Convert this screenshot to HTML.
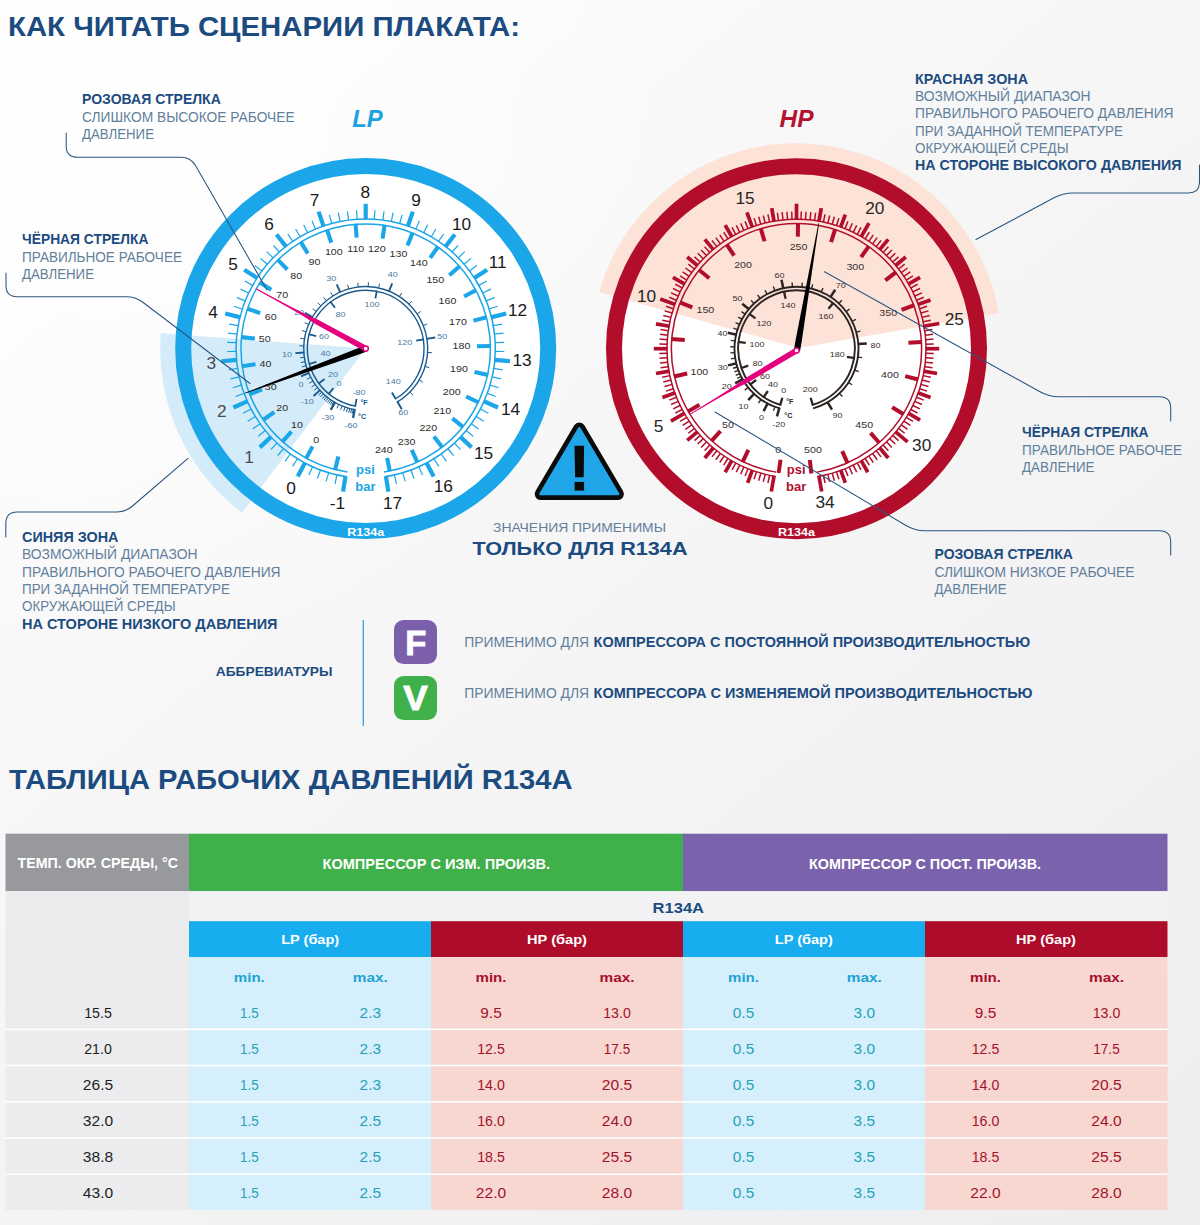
<!DOCTYPE html>
<html lang="ru"><head><meta charset="utf-8"><title>R134a</title>
<style>
html,body{margin:0;padding:0;background:#f3f4f5;}
body{width:1200px;height:1225px;overflow:hidden;}
svg{display:block;font-family:"Liberation Sans", sans-serif;}
</style></head><body>
<svg width="1200" height="1225" viewBox="0 0 1200 1225">
<defs>
<linearGradient id="bgl" x1="0" y1="0" x2="0.85" y2="1.1">
<stop offset="0" stop-color="#fefefe"/><stop offset="0.5" stop-color="#f5f5f6"/><stop offset="1" stop-color="#eeeef0"/>
</linearGradient>
<radialGradient id="bg" cx="0.08" cy="0.06" r="0.5">
<stop offset="0" stop-color="#ffffff" stop-opacity="1"/><stop offset="0.5" stop-color="#ffffff" stop-opacity="0.5"/><stop offset="1" stop-color="#ffffff" stop-opacity="0"/>
</radialGradient>
</defs>
<rect width="1200" height="1225" fill="url(#bgl)"/>
<rect width="1200" height="1225" fill="url(#bg)"/>

<g id="gLP">
<path d="M365.7,348.6 L242.03,512.72 A205.5,205.5 0 0 1 160.78,333.19 Z" fill="#d4ebf9"/>
<circle cx="365.7" cy="348.6" r="175.5" fill="#ffffff"/>
<path d="M365.7,348.6 L260.08,488.76 A175.5,175.5 0 0 1 190.69,335.44 Z" fill="#d4ebf9"/>
<circle cx="365.7" cy="348.6" r="182.5" fill="none" stroke="#1aa6e8" stroke-width="16.0"/>
<path d="M346.77,476.81 A129.6,129.6 0 1 1 384.63,476.81" fill="none" stroke="#1aa6e8" stroke-width="1.5"/>
<path d="M347.48,471.96 A124.7,124.7 0 1 1 383.92,471.96" fill="none" stroke="#1aa6e8" stroke-width="1.5"/>
<line x1="345.50" y1="476.11" x2="343.05" y2="491.62" stroke="#1aa6e8" stroke-width="4.2" stroke-linecap="butt"/>
<line x1="336.99" y1="474.98" x2="334.99" y2="483.76" stroke="#1aa6e8" stroke-width="1.2" stroke-linecap="butt"/>
<line x1="328.67" y1="472.80" x2="326.10" y2="481.42" stroke="#1aa6e8" stroke-width="1.2" stroke-linecap="butt"/>
<line x1="320.53" y1="470.07" x2="317.39" y2="478.51" stroke="#1aa6e8" stroke-width="1.2" stroke-linecap="butt"/>
<line x1="312.57" y1="466.81" x2="308.88" y2="475.02" stroke="#1aa6e8" stroke-width="1.2" stroke-linecap="butt"/>
<line x1="305.09" y1="462.59" x2="297.72" y2="476.45" stroke="#1aa6e8" stroke-width="4.2" stroke-linecap="butt"/>
<line x1="297.41" y1="458.75" x2="292.66" y2="466.40" stroke="#1aa6e8" stroke-width="1.2" stroke-linecap="butt"/>
<line x1="290.26" y1="453.98" x2="285.02" y2="461.30" stroke="#1aa6e8" stroke-width="1.2" stroke-linecap="butt"/>
<line x1="283.44" y1="448.75" x2="277.73" y2="455.70" stroke="#1aa6e8" stroke-width="1.2" stroke-linecap="butt"/>
<line x1="276.98" y1="443.07" x2="270.82" y2="449.64" stroke="#1aa6e8" stroke-width="1.2" stroke-linecap="butt"/>
<line x1="271.28" y1="436.65" x2="259.80" y2="447.35" stroke="#1aa6e8" stroke-width="4.2" stroke-linecap="butt"/>
<line x1="265.27" y1="430.51" x2="258.29" y2="436.20" stroke="#1aa6e8" stroke-width="1.2" stroke-linecap="butt"/>
<line x1="260.06" y1="423.67" x2="252.72" y2="428.89" stroke="#1aa6e8" stroke-width="1.2" stroke-linecap="butt"/>
<line x1="255.32" y1="416.51" x2="247.65" y2="421.22" stroke="#1aa6e8" stroke-width="1.2" stroke-linecap="butt"/>
<line x1="251.06" y1="409.04" x2="243.10" y2="413.24" stroke="#1aa6e8" stroke-width="1.2" stroke-linecap="butt"/>
<line x1="247.76" y1="401.11" x2="233.42" y2="407.50" stroke="#1aa6e8" stroke-width="4.2" stroke-linecap="butt"/>
<line x1="244.07" y1="393.35" x2="235.62" y2="396.46" stroke="#1aa6e8" stroke-width="1.2" stroke-linecap="butt"/>
<line x1="241.37" y1="385.19" x2="232.74" y2="387.73" stroke="#1aa6e8" stroke-width="1.2" stroke-linecap="butt"/>
<line x1="239.22" y1="376.87" x2="230.44" y2="378.83" stroke="#1aa6e8" stroke-width="1.2" stroke-linecap="butt"/>
<line x1="237.63" y1="368.43" x2="228.73" y2="369.80" stroke="#1aa6e8" stroke-width="1.2" stroke-linecap="butt"/>
<line x1="237.09" y1="359.85" x2="221.45" y2="361.22" stroke="#1aa6e8" stroke-width="4.2" stroke-linecap="butt"/>
<line x1="236.13" y1="351.31" x2="227.13" y2="351.50" stroke="#1aa6e8" stroke-width="1.2" stroke-linecap="butt"/>
<line x1="236.23" y1="342.72" x2="227.24" y2="342.31" stroke="#1aa6e8" stroke-width="1.2" stroke-linecap="butt"/>
<line x1="236.91" y1="334.15" x2="227.96" y2="333.15" stroke="#1aa6e8" stroke-width="1.2" stroke-linecap="butt"/>
<line x1="238.15" y1="325.65" x2="229.29" y2="324.06" stroke="#1aa6e8" stroke-width="1.2" stroke-linecap="butt"/>
<line x1="240.43" y1="317.37" x2="225.20" y2="313.57" stroke="#1aa6e8" stroke-width="4.2" stroke-linecap="butt"/>
<line x1="242.30" y1="308.98" x2="233.73" y2="306.23" stroke="#1aa6e8" stroke-width="1.2" stroke-linecap="butt"/>
<line x1="245.20" y1="300.89" x2="236.83" y2="297.58" stroke="#1aa6e8" stroke-width="1.2" stroke-linecap="butt"/>
<line x1="248.63" y1="293.01" x2="240.50" y2="289.15" stroke="#1aa6e8" stroke-width="1.2" stroke-linecap="butt"/>
<line x1="252.57" y1="285.37" x2="244.71" y2="280.98" stroke="#1aa6e8" stroke-width="1.2" stroke-linecap="butt"/>
<line x1="257.43" y1="278.29" x2="244.26" y2="269.74" stroke="#1aa6e8" stroke-width="4.2" stroke-linecap="butt"/>
<line x1="261.93" y1="270.97" x2="254.72" y2="265.58" stroke="#1aa6e8" stroke-width="1.2" stroke-linecap="butt"/>
<line x1="267.30" y1="264.26" x2="260.46" y2="258.40" stroke="#1aa6e8" stroke-width="1.2" stroke-linecap="butt"/>
<line x1="273.10" y1="257.92" x2="266.67" y2="251.63" stroke="#1aa6e8" stroke-width="1.2" stroke-linecap="butt"/>
<line x1="279.32" y1="251.99" x2="273.32" y2="245.28" stroke="#1aa6e8" stroke-width="1.2" stroke-linecap="butt"/>
<line x1="286.22" y1="246.87" x2="276.55" y2="234.50" stroke="#1aa6e8" stroke-width="4.2" stroke-linecap="butt"/>
<line x1="292.85" y1="241.41" x2="287.80" y2="233.97" stroke="#1aa6e8" stroke-width="1.2" stroke-linecap="butt"/>
<line x1="300.12" y1="236.82" x2="295.56" y2="229.06" stroke="#1aa6e8" stroke-width="1.2" stroke-linecap="butt"/>
<line x1="307.67" y1="232.72" x2="303.64" y2="224.67" stroke="#1aa6e8" stroke-width="1.2" stroke-linecap="butt"/>
<line x1="315.48" y1="229.13" x2="311.99" y2="220.83" stroke="#1aa6e8" stroke-width="1.2" stroke-linecap="butt"/>
<line x1="323.67" y1="226.53" x2="318.56" y2="211.69" stroke="#1aa6e8" stroke-width="4.2" stroke-linecap="butt"/>
<line x1="331.72" y1="223.53" x2="329.36" y2="214.85" stroke="#1aa6e8" stroke-width="1.2" stroke-linecap="butt"/>
<line x1="340.08" y1="221.56" x2="338.30" y2="212.73" stroke="#1aa6e8" stroke-width="1.2" stroke-linecap="butt"/>
<line x1="348.56" y1="220.14" x2="347.37" y2="211.22" stroke="#1aa6e8" stroke-width="1.2" stroke-linecap="butt"/>
<line x1="357.11" y1="219.28" x2="356.51" y2="210.30" stroke="#1aa6e8" stroke-width="1.2" stroke-linecap="butt"/>
<line x1="365.70" y1="219.50" x2="365.70" y2="203.80" stroke="#1aa6e8" stroke-width="4.2" stroke-linecap="butt"/>
<line x1="374.29" y1="219.28" x2="374.89" y2="210.30" stroke="#1aa6e8" stroke-width="1.2" stroke-linecap="butt"/>
<line x1="382.84" y1="220.14" x2="384.03" y2="211.22" stroke="#1aa6e8" stroke-width="1.2" stroke-linecap="butt"/>
<line x1="391.32" y1="221.56" x2="393.10" y2="212.73" stroke="#1aa6e8" stroke-width="1.2" stroke-linecap="butt"/>
<line x1="399.68" y1="223.53" x2="402.04" y2="214.85" stroke="#1aa6e8" stroke-width="1.2" stroke-linecap="butt"/>
<line x1="407.73" y1="226.53" x2="412.84" y2="211.69" stroke="#1aa6e8" stroke-width="4.2" stroke-linecap="butt"/>
<line x1="415.92" y1="229.13" x2="419.41" y2="220.83" stroke="#1aa6e8" stroke-width="1.2" stroke-linecap="butt"/>
<line x1="423.73" y1="232.72" x2="427.76" y2="224.67" stroke="#1aa6e8" stroke-width="1.2" stroke-linecap="butt"/>
<line x1="431.28" y1="236.82" x2="435.84" y2="229.06" stroke="#1aa6e8" stroke-width="1.2" stroke-linecap="butt"/>
<line x1="438.55" y1="241.41" x2="443.60" y2="233.97" stroke="#1aa6e8" stroke-width="1.2" stroke-linecap="butt"/>
<line x1="445.18" y1="246.87" x2="454.85" y2="234.50" stroke="#1aa6e8" stroke-width="4.2" stroke-linecap="butt"/>
<line x1="452.08" y1="251.99" x2="458.08" y2="245.28" stroke="#1aa6e8" stroke-width="1.2" stroke-linecap="butt"/>
<line x1="458.30" y1="257.92" x2="464.73" y2="251.63" stroke="#1aa6e8" stroke-width="1.2" stroke-linecap="butt"/>
<line x1="464.10" y1="264.26" x2="470.94" y2="258.40" stroke="#1aa6e8" stroke-width="1.2" stroke-linecap="butt"/>
<line x1="469.47" y1="270.97" x2="476.68" y2="265.58" stroke="#1aa6e8" stroke-width="1.2" stroke-linecap="butt"/>
<line x1="473.97" y1="278.29" x2="487.14" y2="269.74" stroke="#1aa6e8" stroke-width="4.2" stroke-linecap="butt"/>
<line x1="478.83" y1="285.37" x2="486.69" y2="280.98" stroke="#1aa6e8" stroke-width="1.2" stroke-linecap="butt"/>
<line x1="482.77" y1="293.01" x2="490.90" y2="289.15" stroke="#1aa6e8" stroke-width="1.2" stroke-linecap="butt"/>
<line x1="486.20" y1="300.89" x2="494.57" y2="297.58" stroke="#1aa6e8" stroke-width="1.2" stroke-linecap="butt"/>
<line x1="489.10" y1="308.98" x2="497.67" y2="306.23" stroke="#1aa6e8" stroke-width="1.2" stroke-linecap="butt"/>
<line x1="490.97" y1="317.37" x2="506.20" y2="313.57" stroke="#1aa6e8" stroke-width="4.2" stroke-linecap="butt"/>
<line x1="493.25" y1="325.65" x2="502.11" y2="324.06" stroke="#1aa6e8" stroke-width="1.2" stroke-linecap="butt"/>
<line x1="494.49" y1="334.15" x2="503.44" y2="333.15" stroke="#1aa6e8" stroke-width="1.2" stroke-linecap="butt"/>
<line x1="495.17" y1="342.72" x2="504.16" y2="342.31" stroke="#1aa6e8" stroke-width="1.2" stroke-linecap="butt"/>
<line x1="495.27" y1="351.31" x2="504.27" y2="351.50" stroke="#1aa6e8" stroke-width="1.2" stroke-linecap="butt"/>
<line x1="494.31" y1="359.85" x2="509.95" y2="361.22" stroke="#1aa6e8" stroke-width="4.2" stroke-linecap="butt"/>
<line x1="493.77" y1="368.43" x2="502.67" y2="369.80" stroke="#1aa6e8" stroke-width="1.2" stroke-linecap="butt"/>
<line x1="492.18" y1="376.87" x2="500.96" y2="378.83" stroke="#1aa6e8" stroke-width="1.2" stroke-linecap="butt"/>
<line x1="490.03" y1="385.19" x2="498.66" y2="387.73" stroke="#1aa6e8" stroke-width="1.2" stroke-linecap="butt"/>
<line x1="487.33" y1="393.35" x2="495.78" y2="396.46" stroke="#1aa6e8" stroke-width="1.2" stroke-linecap="butt"/>
<line x1="483.64" y1="401.11" x2="497.98" y2="407.50" stroke="#1aa6e8" stroke-width="4.2" stroke-linecap="butt"/>
<line x1="480.34" y1="409.04" x2="488.30" y2="413.24" stroke="#1aa6e8" stroke-width="1.2" stroke-linecap="butt"/>
<line x1="476.08" y1="416.51" x2="483.75" y2="421.22" stroke="#1aa6e8" stroke-width="1.2" stroke-linecap="butt"/>
<line x1="471.34" y1="423.67" x2="478.68" y2="428.89" stroke="#1aa6e8" stroke-width="1.2" stroke-linecap="butt"/>
<line x1="466.13" y1="430.51" x2="473.11" y2="436.20" stroke="#1aa6e8" stroke-width="1.2" stroke-linecap="butt"/>
<line x1="460.12" y1="436.65" x2="471.60" y2="447.35" stroke="#1aa6e8" stroke-width="4.2" stroke-linecap="butt"/>
<line x1="454.42" y1="443.07" x2="460.58" y2="449.64" stroke="#1aa6e8" stroke-width="1.2" stroke-linecap="butt"/>
<line x1="447.96" y1="448.75" x2="453.67" y2="455.70" stroke="#1aa6e8" stroke-width="1.2" stroke-linecap="butt"/>
<line x1="441.14" y1="453.98" x2="446.38" y2="461.30" stroke="#1aa6e8" stroke-width="1.2" stroke-linecap="butt"/>
<line x1="433.99" y1="458.75" x2="438.74" y2="466.40" stroke="#1aa6e8" stroke-width="1.2" stroke-linecap="butt"/>
<line x1="426.31" y1="462.59" x2="433.68" y2="476.45" stroke="#1aa6e8" stroke-width="4.2" stroke-linecap="butt"/>
<line x1="418.83" y1="466.81" x2="422.52" y2="475.02" stroke="#1aa6e8" stroke-width="1.2" stroke-linecap="butt"/>
<line x1="410.87" y1="470.07" x2="414.01" y2="478.51" stroke="#1aa6e8" stroke-width="1.2" stroke-linecap="butt"/>
<line x1="402.73" y1="472.80" x2="405.30" y2="481.42" stroke="#1aa6e8" stroke-width="1.2" stroke-linecap="butt"/>
<line x1="394.41" y1="474.98" x2="396.41" y2="483.76" stroke="#1aa6e8" stroke-width="1.2" stroke-linecap="butt"/>
<line x1="385.90" y1="476.11" x2="388.35" y2="491.62" stroke="#1aa6e8" stroke-width="4.2" stroke-linecap="butt"/>
<text transform="translate(365.3,197.7) scale(1.08,1)" font-size="16" fill="#1a1a1a" text-anchor="middle">8</text>
<text transform="translate(314.5,205.7) scale(1.08,1)" font-size="16" fill="#1a1a1a" text-anchor="middle">7</text>
<text transform="translate(416.0,205.7) scale(1.08,1)" font-size="16" fill="#1a1a1a" text-anchor="middle">9</text>
<text transform="translate(269.0,230.2) scale(1.08,1)" font-size="16" fill="#1a1a1a" text-anchor="middle">6</text>
<text transform="translate(461.5,230.2) scale(1.08,1)" font-size="16" fill="#1a1a1a" text-anchor="middle">10</text>
<text transform="translate(233.0,269.5) scale(1.08,1)" font-size="16" fill="#1a1a1a" text-anchor="middle">5</text>
<text transform="translate(497.6,268.4) scale(1.08,1)" font-size="16" fill="#1a1a1a" text-anchor="middle">11</text>
<text transform="translate(213.0,317.7) scale(1.08,1)" font-size="16" fill="#1a1a1a" text-anchor="middle">4</text>
<text transform="translate(517.5,316.0) scale(1.08,1)" font-size="16" fill="#1a1a1a" text-anchor="middle">12</text>
<text transform="translate(211.3,368.5) scale(1.08,1)" font-size="16" fill="#474c52" text-anchor="middle">3</text>
<text transform="translate(522.0,365.5) scale(1.08,1)" font-size="16" fill="#1a1a1a" text-anchor="middle">13</text>
<text transform="translate(221.8,416.5) scale(1.08,1)" font-size="16" fill="#474c52" text-anchor="middle">2</text>
<text transform="translate(510.5,414.7) scale(1.08,1)" font-size="16" fill="#1a1a1a" text-anchor="middle">14</text>
<text transform="translate(249.0,462.7) scale(1.08,1)" font-size="16" fill="#474c52" text-anchor="middle">1</text>
<text transform="translate(483.6,458.5) scale(1.08,1)" font-size="16" fill="#1a1a1a" text-anchor="middle">15</text>
<text transform="translate(291.0,493.5) scale(1.08,1)" font-size="16" fill="#1a1a1a" text-anchor="middle">0</text>
<text transform="translate(443.3,491.7) scale(1.08,1)" font-size="16" fill="#1a1a1a" text-anchor="middle">16</text>
<text transform="translate(337.3,509.2) scale(1.08,1)" font-size="16" fill="#1a1a1a" text-anchor="middle">-1</text>
<text transform="translate(392.6,508.5) scale(1.08,1)" font-size="16" fill="#1a1a1a" text-anchor="middle">17</text>
<line x1="334.99" y1="469.97" x2="338.40" y2="456.50" stroke="#1aa6e8" stroke-width="4.1" stroke-linecap="butt"/>
<line x1="305.96" y1="458.63" x2="312.59" y2="446.41" stroke="#1aa6e8" stroke-width="4.1" stroke-linecap="butt"/>
<line x1="282.17" y1="441.86" x2="291.44" y2="431.51" stroke="#1aa6e8" stroke-width="4.1" stroke-linecap="butt"/>
<line x1="262.89" y1="420.05" x2="274.31" y2="412.12" stroke="#1aa6e8" stroke-width="4.1" stroke-linecap="butt"/>
<line x1="249.17" y1="394.38" x2="262.11" y2="389.30" stroke="#1aa6e8" stroke-width="4.1" stroke-linecap="butt"/>
<line x1="241.75" y1="366.24" x2="255.51" y2="364.28" stroke="#1aa6e8" stroke-width="4.1" stroke-linecap="butt"/>
<line x1="241.03" y1="337.14" x2="254.87" y2="338.42" stroke="#1aa6e8" stroke-width="4.1" stroke-linecap="butt"/>
<line x1="247.04" y1="308.67" x2="260.21" y2="313.10" stroke="#1aa6e8" stroke-width="4.1" stroke-linecap="butt"/>
<line x1="259.47" y1="282.35" x2="271.26" y2="289.70" stroke="#1aa6e8" stroke-width="4.1" stroke-linecap="butt"/>
<line x1="277.63" y1="259.61" x2="287.41" y2="269.49" stroke="#1aa6e8" stroke-width="4.1" stroke-linecap="butt"/>
<line x1="300.56" y1="241.68" x2="307.79" y2="253.55" stroke="#1aa6e8" stroke-width="4.1" stroke-linecap="butt"/>
<line x1="327.01" y1="229.53" x2="331.31" y2="242.75" stroke="#1aa6e8" stroke-width="4.1" stroke-linecap="butt"/>
<line x1="355.55" y1="223.81" x2="356.68" y2="237.67" stroke="#1aa6e8" stroke-width="4.1" stroke-linecap="butt"/>
<line x1="384.64" y1="224.84" x2="382.54" y2="238.58" stroke="#1aa6e8" stroke-width="4.1" stroke-linecap="butt"/>
<line x1="412.70" y1="232.56" x2="407.48" y2="245.44" stroke="#1aa6e8" stroke-width="4.1" stroke-linecap="butt"/>
<line x1="438.23" y1="246.55" x2="430.17" y2="257.88" stroke="#1aa6e8" stroke-width="4.1" stroke-linecap="butt"/>
<line x1="459.83" y1="266.05" x2="449.38" y2="275.21" stroke="#1aa6e8" stroke-width="4.1" stroke-linecap="butt"/>
<line x1="476.35" y1="290.02" x2="464.06" y2="296.52" stroke="#1aa6e8" stroke-width="4.1" stroke-linecap="butt"/>
<line x1="486.88" y1="317.15" x2="473.43" y2="320.64" stroke="#1aa6e8" stroke-width="4.1" stroke-linecap="butt"/>
<line x1="490.87" y1="345.98" x2="476.98" y2="346.27" stroke="#1aa6e8" stroke-width="4.1" stroke-linecap="butt"/>
<line x1="488.10" y1="374.95" x2="474.51" y2="372.03" stroke="#1aa6e8" stroke-width="4.1" stroke-linecap="butt"/>
<line x1="478.70" y1="402.50" x2="466.16" y2="396.52" stroke="#1aa6e8" stroke-width="4.1" stroke-linecap="butt"/>
<line x1="463.20" y1="427.14" x2="452.38" y2="418.42" stroke="#1aa6e8" stroke-width="4.1" stroke-linecap="butt"/>
<line x1="442.44" y1="447.53" x2="433.92" y2="436.54" stroke="#1aa6e8" stroke-width="4.1" stroke-linecap="butt"/>
<line x1="417.52" y1="462.57" x2="411.77" y2="449.92" stroke="#1aa6e8" stroke-width="4.1" stroke-linecap="butt"/>
<line x1="389.80" y1="471.46" x2="387.13" y2="457.82" stroke="#1aa6e8" stroke-width="4.1" stroke-linecap="butt"/>
<text transform="translate(316.3,443.1) scale(1.15,1)" font-size="9.3" fill="#2e2e2e" text-anchor="middle">0</text>
<text transform="translate(297.0,428.1) scale(1.15,1)" font-size="9.3" fill="#2e2e2e" text-anchor="middle">10</text>
<text transform="translate(282.3,410.6) scale(1.15,1)" font-size="9.3" fill="#2e2e2e" text-anchor="middle">20</text>
<text transform="translate(270.8,389.6) scale(1.15,1)" font-size="9.3" fill="#2e2e2e" text-anchor="middle">30</text>
<text transform="translate(265.5,366.8) scale(1.15,1)" font-size="9.3" fill="#2e2e2e" text-anchor="middle">40</text>
<text transform="translate(264.8,342.3) scale(1.15,1)" font-size="9.3" fill="#2e2e2e" text-anchor="middle">50</text>
<text transform="translate(270.8,319.6) scale(1.15,1)" font-size="9.3" fill="#2e2e2e" text-anchor="middle">60</text>
<text transform="translate(282.3,297.9) scale(1.15,1)" font-size="9.3" fill="#2e2e2e" text-anchor="middle">70</text>
<text transform="translate(296.3,278.6) scale(1.15,1)" font-size="9.3" fill="#2e2e2e" text-anchor="middle">80</text>
<text transform="translate(314.5,265.3) scale(1.15,1)" font-size="9.3" fill="#2e2e2e" text-anchor="middle">90</text>
<text transform="translate(333.8,254.8) scale(1.15,1)" font-size="9.3" fill="#2e2e2e" text-anchor="middle">100</text>
<text transform="translate(355.8,251.5) scale(1.15,1)" font-size="9.3" fill="#2e2e2e" text-anchor="middle">110</text>
<text transform="translate(376.8,251.7) scale(1.15,1)" font-size="9.3" fill="#2e2e2e" text-anchor="middle">120</text>
<text transform="translate(398.5,256.6) scale(1.15,1)" font-size="9.3" fill="#2e2e2e" text-anchor="middle">130</text>
<text transform="translate(418.8,266.0) scale(1.15,1)" font-size="9.3" fill="#2e2e2e" text-anchor="middle">140</text>
<text transform="translate(435.3,282.8) scale(1.15,1)" font-size="9.3" fill="#2e2e2e" text-anchor="middle">150</text>
<text transform="translate(447.5,303.8) scale(1.15,1)" font-size="9.3" fill="#2e2e2e" text-anchor="middle">160</text>
<text transform="translate(458.0,324.8) scale(1.15,1)" font-size="9.3" fill="#2e2e2e" text-anchor="middle">170</text>
<text transform="translate(461.5,348.6) scale(1.15,1)" font-size="9.3" fill="#2e2e2e" text-anchor="middle">180</text>
<text transform="translate(459.0,372.1) scale(1.15,1)" font-size="9.3" fill="#2e2e2e" text-anchor="middle">190</text>
<text transform="translate(451.7,394.8) scale(1.15,1)" font-size="9.3" fill="#2e2e2e" text-anchor="middle">200</text>
<text transform="translate(442.3,414.1) scale(1.15,1)" font-size="9.3" fill="#2e2e2e" text-anchor="middle">210</text>
<text transform="translate(428.3,430.9) scale(1.15,1)" font-size="9.3" fill="#2e2e2e" text-anchor="middle">220</text>
<text transform="translate(406.6,444.5) scale(1.15,1)" font-size="9.3" fill="#2e2e2e" text-anchor="middle">230</text>
<text transform="translate(383.8,452.6) scale(1.15,1)" font-size="9.3" fill="#2e2e2e" text-anchor="middle">240</text>
<text x="365.4" y="473.5" font-size="13" font-weight="700" fill="#1aa6e8" text-anchor="middle">psi</text>
<text x="365.4" y="490.5" font-size="13" font-weight="700" fill="#1aa6e8" text-anchor="middle">bar</text>
<text x="365.7" y="536.0" font-size="10.5" font-weight="700" fill="#ffffff" text-anchor="middle" textLength="37.0" lengthAdjust="spacingAndGlyphs">R134a</text>
<path d="M355.25,409.71 A62.0,62.0 0 1 1 397.45,401.86" fill="none" stroke="#1b5a8d" stroke-width="1.4"/>
<path d="M355.86,406.17 A58.4,58.4 0 1 1 395.60,398.76" fill="none" stroke="#1b5a8d" stroke-width="1.4"/>
<line x1="353.23" y1="409.33" x2="352.37" y2="413.55" stroke="#1b5a8d" stroke-width="1.0" stroke-linecap="butt"/>
<line x1="351.68" y1="408.99" x2="350.71" y2="413.18" stroke="#1b5a8d" stroke-width="1.0" stroke-linecap="butt"/>
<line x1="349.83" y1="408.53" x2="348.72" y2="412.69" stroke="#1b5a8d" stroke-width="1.0" stroke-linecap="butt"/>
<line x1="347.65" y1="407.91" x2="346.39" y2="412.03" stroke="#1b5a8d" stroke-width="1.0" stroke-linecap="butt"/>
<line x1="345.08" y1="407.07" x2="343.65" y2="411.13" stroke="#1b5a8d" stroke-width="1.0" stroke-linecap="butt"/>
<line x1="342.14" y1="405.95" x2="340.50" y2="409.93" stroke="#1b5a8d" stroke-width="1.0" stroke-linecap="butt"/>
<line x1="338.78" y1="404.45" x2="336.91" y2="408.32" stroke="#1b5a8d" stroke-width="1.0" stroke-linecap="butt"/>
<line x1="333.78" y1="401.75" x2="331.57" y2="405.44" stroke="#1b5a8d" stroke-width="1.0" stroke-linecap="butt"/>
<line x1="332.51" y1="400.97" x2="330.21" y2="404.60" stroke="#1b5a8d" stroke-width="1.0" stroke-linecap="butt"/>
<line x1="331.16" y1="400.09" x2="328.76" y2="403.66" stroke="#1b5a8d" stroke-width="1.0" stroke-linecap="butt"/>
<line x1="329.73" y1="399.10" x2="327.24" y2="402.60" stroke="#1b5a8d" stroke-width="1.0" stroke-linecap="butt"/>
<line x1="328.22" y1="397.99" x2="325.63" y2="401.42" stroke="#1b5a8d" stroke-width="1.0" stroke-linecap="butt"/>
<line x1="326.67" y1="396.77" x2="323.96" y2="400.11" stroke="#1b5a8d" stroke-width="1.0" stroke-linecap="butt"/>
<line x1="325.05" y1="395.41" x2="322.23" y2="398.66" stroke="#1b5a8d" stroke-width="1.0" stroke-linecap="butt"/>
<line x1="323.36" y1="393.89" x2="320.42" y2="397.03" stroke="#1b5a8d" stroke-width="1.0" stroke-linecap="butt"/>
<line x1="321.62" y1="392.20" x2="318.57" y2="395.23" stroke="#1b5a8d" stroke-width="1.0" stroke-linecap="butt"/>
<line x1="317.47" y1="387.56" x2="314.13" y2="390.26" stroke="#1b5a8d" stroke-width="1.0" stroke-linecap="butt"/>
<line x1="315.13" y1="384.47" x2="311.62" y2="386.96" stroke="#1b5a8d" stroke-width="1.0" stroke-linecap="butt"/>
<line x1="312.86" y1="381.03" x2="309.19" y2="383.28" stroke="#1b5a8d" stroke-width="1.0" stroke-linecap="butt"/>
<line x1="310.70" y1="377.22" x2="306.89" y2="379.21" stroke="#1b5a8d" stroke-width="1.0" stroke-linecap="butt"/>
<line x1="307.34" y1="369.52" x2="303.29" y2="370.97" stroke="#1b5a8d" stroke-width="1.0" stroke-linecap="butt"/>
<line x1="306.11" y1="365.73" x2="301.98" y2="366.92" stroke="#1b5a8d" stroke-width="1.0" stroke-linecap="butt"/>
<line x1="305.09" y1="361.65" x2="300.88" y2="362.55" stroke="#1b5a8d" stroke-width="1.0" stroke-linecap="butt"/>
<line x1="304.31" y1="357.27" x2="300.05" y2="357.87" stroke="#1b5a8d" stroke-width="1.0" stroke-linecap="butt"/>
<line x1="303.76" y1="345.93" x2="299.46" y2="345.75" stroke="#1b5a8d" stroke-width="1.0" stroke-linecap="butt"/>
<line x1="304.46" y1="338.95" x2="300.21" y2="338.28" stroke="#1b5a8d" stroke-width="1.0" stroke-linecap="butt"/>
<line x1="306.04" y1="331.74" x2="301.90" y2="330.57" stroke="#1b5a8d" stroke-width="1.0" stroke-linecap="butt"/>
<line x1="308.61" y1="324.41" x2="304.65" y2="322.74" stroke="#1b5a8d" stroke-width="1.0" stroke-linecap="butt"/>
<line x1="316.12" y1="311.37" x2="312.68" y2="308.79" stroke="#1b5a8d" stroke-width="1.0" stroke-linecap="butt"/>
<line x1="320.81" y1="305.83" x2="317.70" y2="302.87" stroke="#1b5a8d" stroke-width="1.0" stroke-linecap="butt"/>
<line x1="326.38" y1="300.66" x2="323.65" y2="297.34" stroke="#1b5a8d" stroke-width="1.0" stroke-linecap="butt"/>
<line x1="332.85" y1="296.02" x2="330.57" y2="292.37" stroke="#1b5a8d" stroke-width="1.0" stroke-linecap="butt"/>
<line x1="348.82" y1="288.94" x2="347.65" y2="284.80" stroke="#1b5a8d" stroke-width="1.0" stroke-linecap="butt"/>
<line x1="358.23" y1="287.05" x2="357.72" y2="282.78" stroke="#1b5a8d" stroke-width="1.0" stroke-linecap="butt"/>
<line x1="368.24" y1="286.65" x2="368.42" y2="282.36" stroke="#1b5a8d" stroke-width="1.0" stroke-linecap="butt"/>
<line x1="378.61" y1="287.96" x2="379.51" y2="283.75" stroke="#1b5a8d" stroke-width="1.0" stroke-linecap="butt"/>
<line x1="399.42" y1="296.57" x2="401.76" y2="292.96" stroke="#1b5a8d" stroke-width="1.0" stroke-linecap="butt"/>
<line x1="408.95" y1="304.18" x2="411.95" y2="301.10" stroke="#1b5a8d" stroke-width="1.0" stroke-linecap="butt"/>
<line x1="417.09" y1="313.92" x2="420.66" y2="311.51" stroke="#1b5a8d" stroke-width="1.0" stroke-linecap="butt"/>
<line x1="423.27" y1="325.58" x2="427.26" y2="323.98" stroke="#1b5a8d" stroke-width="1.0" stroke-linecap="butt"/>
<line x1="427.58" y1="352.46" x2="431.87" y2="352.73" stroke="#1b5a8d" stroke-width="1.0" stroke-linecap="butt"/>
<line x1="425.08" y1="366.45" x2="429.19" y2="367.68" stroke="#1b5a8d" stroke-width="1.0" stroke-linecap="butt"/>
<line x1="419.19" y1="379.95" x2="422.90" y2="382.13" stroke="#1b5a8d" stroke-width="1.0" stroke-linecap="butt"/>
<line x1="409.90" y1="392.08" x2="412.96" y2="395.10" stroke="#1b5a8d" stroke-width="1.0" stroke-linecap="butt"/>
<line x1="354.72" y1="409.01" x2="353.09" y2="417.96" stroke="#1b5a8d" stroke-width="2.3" stroke-linecap="butt"/>
<line x1="335.28" y1="401.93" x2="330.77" y2="409.84" stroke="#1b5a8d" stroke-width="2.3" stroke-linecap="butt"/>
<line x1="320.29" y1="389.92" x2="313.56" y2="396.05" stroke="#1b5a8d" stroke-width="1.9" stroke-linecap="butt"/>
<line x1="309.27" y1="372.79" x2="300.90" y2="376.37" stroke="#1b5a8d" stroke-width="1.9" stroke-linecap="butt"/>
<line x1="304.43" y1="352.56" x2="295.35" y2="353.15" stroke="#1b5a8d" stroke-width="1.9" stroke-linecap="butt"/>
<line x1="312.80" y1="317.44" x2="304.96" y2="312.82" stroke="#1b5a8d" stroke-width="1.9" stroke-linecap="butt"/>
<line x1="340.43" y1="292.64" x2="336.69" y2="284.35" stroke="#1b5a8d" stroke-width="1.9" stroke-linecap="butt"/>
<line x1="388.80" y1="291.71" x2="392.22" y2="283.28" stroke="#1b5a8d" stroke-width="1.9" stroke-linecap="butt"/>
<line x1="426.33" y1="338.89" x2="435.31" y2="337.45" stroke="#1b5a8d" stroke-width="1.9" stroke-linecap="butt"/>
<line x1="397.14" y1="401.34" x2="401.80" y2="409.16" stroke="#1b5a8d" stroke-width="1.9" stroke-linecap="butt"/>
<line x1="355.15" y1="406.65" x2="356.56" y2="398.88" stroke="#1b5a8d" stroke-width="1.8" stroke-linecap="butt"/>
<line x1="328.39" y1="394.30" x2="333.38" y2="388.18" stroke="#1b5a8d" stroke-width="1.8" stroke-linecap="butt"/>
<line x1="318.31" y1="383.75" x2="324.66" y2="379.04" stroke="#1b5a8d" stroke-width="1.8" stroke-linecap="butt"/>
<line x1="308.76" y1="364.06" x2="316.39" y2="361.99" stroke="#1b5a8d" stroke-width="1.8" stroke-linecap="butt"/>
<line x1="308.51" y1="334.09" x2="316.17" y2="336.03" stroke="#1b5a8d" stroke-width="1.8" stroke-linecap="butt"/>
<line x1="330.24" y1="301.45" x2="334.99" y2="307.76" stroke="#1b5a8d" stroke-width="1.8" stroke-linecap="butt"/>
<line x1="376.88" y1="290.67" x2="375.39" y2="298.43" stroke="#1b5a8d" stroke-width="1.8" stroke-linecap="butt"/>
<line x1="423.96" y1="339.27" x2="416.16" y2="340.52" stroke="#1b5a8d" stroke-width="1.8" stroke-linecap="butt"/>
<line x1="395.91" y1="399.28" x2="391.87" y2="392.49" stroke="#1b5a8d" stroke-width="1.8" stroke-linecap="butt"/>
<text transform="translate(351.0,428.2) scale(1.17,1)" font-size="7.7" font-weight="400" fill="#47799f" text-anchor="middle">-60</text>
<text transform="translate(327.7,420.4) scale(1.17,1)" font-size="7.7" font-weight="400" fill="#47799f" text-anchor="middle">-30</text>
<text transform="translate(307.2,403.8) scale(1.17,1)" font-size="7.7" font-weight="400" fill="#47799f" text-anchor="middle">-10</text>
<text transform="translate(301.0,387.2) scale(1.17,1)" font-size="7.7" font-weight="400" fill="#47799f" text-anchor="middle">0</text>
<text transform="translate(286.9,356.9) scale(1.17,1)" font-size="7.7" font-weight="400" fill="#47799f" text-anchor="middle">10</text>
<text transform="translate(299.2,314.5) scale(1.17,1)" font-size="7.7" font-weight="400" fill="#47799f" text-anchor="middle">20</text>
<text transform="translate(331.3,280.8) scale(1.17,1)" font-size="7.7" font-weight="400" fill="#47799f" text-anchor="middle">30</text>
<text transform="translate(392.7,277.1) scale(1.17,1)" font-size="7.7" font-weight="400" fill="#47799f" text-anchor="middle">40</text>
<text transform="translate(442.2,339.2) scale(1.17,1)" font-size="7.7" font-weight="400" fill="#47799f" text-anchor="middle">50</text>
<text transform="translate(403.3,415.1) scale(1.17,1)" font-size="7.7" font-weight="400" fill="#47799f" text-anchor="middle">60</text>
<text transform="translate(359.0,395.3) scale(1.17,1)" font-size="7.7" font-weight="400" fill="#47799f" text-anchor="middle">-80</text>
<text transform="translate(339.0,386.1) scale(1.17,1)" font-size="7.7" font-weight="400" fill="#47799f" text-anchor="middle">0</text>
<text transform="translate(333.1,377.0) scale(1.17,1)" font-size="7.7" font-weight="400" fill="#47799f" text-anchor="middle">20</text>
<text transform="translate(325.5,356.3) scale(1.17,1)" font-size="7.7" font-weight="400" fill="#47799f" text-anchor="middle">40</text>
<text transform="translate(324.1,338.6) scale(1.17,1)" font-size="7.7" font-weight="400" fill="#47799f" text-anchor="middle">60</text>
<text transform="translate(340.4,316.6) scale(1.17,1)" font-size="7.7" font-weight="400" fill="#47799f" text-anchor="middle">80</text>
<text transform="translate(371.9,307.3) scale(1.17,1)" font-size="7.7" font-weight="400" fill="#47799f" text-anchor="middle">100</text>
<text transform="translate(404.7,344.5) scale(1.17,1)" font-size="7.7" font-weight="400" fill="#47799f" text-anchor="middle">120</text>
<text transform="translate(393.3,384.3) scale(1.17,1)" font-size="7.7" font-weight="400" fill="#47799f" text-anchor="middle">140</text>
<text x="360.4" y="405.2" font-size="7.2" font-weight="700" fill="#1b5a8d">°F</text>
<text x="358.1" y="418.9" font-size="7.2" font-weight="700" fill="#1b5a8d">°C</text>
</g>
<g id="gHP">
<path d="M798.5,348.0 L598.96,292.06 A205.5,205.5 0 0 1 998.88,313.02 Z" fill="#fde2d8"/>
<circle cx="796.5" cy="348.7" r="175.5" fill="#ffffff"/>
<path d="M798.5,348.0 L627.80,300.33 A175.5,175.5 0 0 1 969.33,318.22 Z" fill="#fde2d8"/>
<circle cx="796.5" cy="348.7" r="182.5" fill="none" stroke="#b20e2b" stroke-width="16.0"/>
<path d="M775.35,476.46 A129.5,129.5 0 1 1 817.65,476.46" fill="none" stroke="#b20e2b" stroke-width="1.5"/>
<path d="M776.07,472.12 A125.1,125.1 0 1 1 816.93,472.12" fill="none" stroke="#b20e2b" stroke-width="1.5"/>
<line x1="774.10" y1="475.74" x2="771.32" y2="491.50" stroke="#b20e2b" stroke-width="3.7" stroke-linecap="butt"/>
<line x1="769.58" y1="475.37" x2="767.95" y2="483.00" stroke="#b20e2b" stroke-width="1.5" stroke-linecap="butt"/>
<line x1="765.17" y1="474.35" x2="763.28" y2="481.92" stroke="#b20e2b" stroke-width="1.5" stroke-linecap="butt"/>
<line x1="760.80" y1="473.18" x2="758.65" y2="480.68" stroke="#b20e2b" stroke-width="1.5" stroke-linecap="butt"/>
<line x1="756.48" y1="471.86" x2="754.07" y2="479.28" stroke="#b20e2b" stroke-width="1.5" stroke-linecap="butt"/>
<line x1="752.38" y1="469.92" x2="747.69" y2="482.79" stroke="#b20e2b" stroke-width="3.7" stroke-linecap="butt"/>
<line x1="747.99" y1="468.77" x2="745.07" y2="476.00" stroke="#b20e2b" stroke-width="1.5" stroke-linecap="butt"/>
<line x1="743.83" y1="467.00" x2="740.66" y2="474.13" stroke="#b20e2b" stroke-width="1.5" stroke-linecap="butt"/>
<line x1="739.73" y1="465.09" x2="736.31" y2="472.10" stroke="#b20e2b" stroke-width="1.5" stroke-linecap="butt"/>
<line x1="735.70" y1="463.04" x2="732.04" y2="469.93" stroke="#b20e2b" stroke-width="1.5" stroke-linecap="butt"/>
<line x1="732.00" y1="460.42" x2="725.15" y2="472.28" stroke="#b20e2b" stroke-width="3.7" stroke-linecap="butt"/>
<line x1="727.88" y1="458.52" x2="723.74" y2="465.14" stroke="#b20e2b" stroke-width="1.5" stroke-linecap="butt"/>
<line x1="724.08" y1="456.06" x2="719.72" y2="462.53" stroke="#b20e2b" stroke-width="1.5" stroke-linecap="butt"/>
<line x1="720.38" y1="453.47" x2="715.80" y2="459.78" stroke="#b20e2b" stroke-width="1.5" stroke-linecap="butt"/>
<line x1="716.77" y1="450.75" x2="711.97" y2="456.89" stroke="#b20e2b" stroke-width="1.5" stroke-linecap="butt"/>
<line x1="713.58" y1="447.52" x2="704.77" y2="458.01" stroke="#b20e2b" stroke-width="3.7" stroke-linecap="butt"/>
<line x1="709.85" y1="444.94" x2="704.63" y2="450.73" stroke="#b20e2b" stroke-width="1.5" stroke-linecap="butt"/>
<line x1="706.54" y1="441.85" x2="701.12" y2="447.47" stroke="#b20e2b" stroke-width="1.5" stroke-linecap="butt"/>
<line x1="703.35" y1="438.66" x2="697.73" y2="444.08" stroke="#b20e2b" stroke-width="1.5" stroke-linecap="butt"/>
<line x1="700.26" y1="435.35" x2="694.47" y2="440.57" stroke="#b20e2b" stroke-width="1.5" stroke-linecap="butt"/>
<line x1="697.68" y1="431.62" x2="687.19" y2="440.43" stroke="#b20e2b" stroke-width="3.7" stroke-linecap="butt"/>
<line x1="694.45" y1="428.43" x2="688.31" y2="433.23" stroke="#b20e2b" stroke-width="1.5" stroke-linecap="butt"/>
<line x1="691.73" y1="424.82" x2="685.42" y2="429.40" stroke="#b20e2b" stroke-width="1.5" stroke-linecap="butt"/>
<line x1="689.14" y1="421.12" x2="682.67" y2="425.48" stroke="#b20e2b" stroke-width="1.5" stroke-linecap="butt"/>
<line x1="686.68" y1="417.32" x2="680.06" y2="421.46" stroke="#b20e2b" stroke-width="1.5" stroke-linecap="butt"/>
<line x1="684.78" y1="413.20" x2="670.93" y2="421.20" stroke="#b20e2b" stroke-width="3.7" stroke-linecap="butt"/>
<line x1="682.16" y1="409.50" x2="675.27" y2="413.16" stroke="#b20e2b" stroke-width="1.5" stroke-linecap="butt"/>
<line x1="680.11" y1="405.47" x2="673.10" y2="408.89" stroke="#b20e2b" stroke-width="1.5" stroke-linecap="butt"/>
<line x1="678.20" y1="401.37" x2="671.07" y2="404.54" stroke="#b20e2b" stroke-width="1.5" stroke-linecap="butt"/>
<line x1="676.43" y1="397.21" x2="669.20" y2="400.13" stroke="#b20e2b" stroke-width="1.5" stroke-linecap="butt"/>
<line x1="675.28" y1="392.82" x2="662.41" y2="397.51" stroke="#b20e2b" stroke-width="3.7" stroke-linecap="butt"/>
<line x1="673.34" y1="388.72" x2="665.92" y2="391.13" stroke="#b20e2b" stroke-width="1.5" stroke-linecap="butt"/>
<line x1="672.02" y1="384.40" x2="664.52" y2="386.55" stroke="#b20e2b" stroke-width="1.5" stroke-linecap="butt"/>
<line x1="670.85" y1="380.03" x2="663.28" y2="381.92" stroke="#b20e2b" stroke-width="1.5" stroke-linecap="butt"/>
<line x1="669.83" y1="375.62" x2="662.20" y2="377.25" stroke="#b20e2b" stroke-width="1.5" stroke-linecap="butt"/>
<line x1="669.46" y1="371.10" x2="655.97" y2="373.48" stroke="#b20e2b" stroke-width="3.7" stroke-linecap="butt"/>
<line x1="668.26" y1="366.72" x2="660.54" y2="367.81" stroke="#b20e2b" stroke-width="1.5" stroke-linecap="butt"/>
<line x1="667.71" y1="362.24" x2="659.95" y2="363.05" stroke="#b20e2b" stroke-width="1.5" stroke-linecap="butt"/>
<line x1="667.32" y1="357.73" x2="659.53" y2="358.28" stroke="#b20e2b" stroke-width="1.5" stroke-linecap="butt"/>
<line x1="667.08" y1="353.22" x2="659.28" y2="353.49" stroke="#b20e2b" stroke-width="1.5" stroke-linecap="butt"/>
<line x1="667.50" y1="348.70" x2="653.80" y2="348.70" stroke="#b20e2b" stroke-width="3.7" stroke-linecap="butt"/>
<line x1="667.08" y1="344.18" x2="659.28" y2="343.91" stroke="#b20e2b" stroke-width="1.5" stroke-linecap="butt"/>
<line x1="667.32" y1="339.67" x2="659.53" y2="339.12" stroke="#b20e2b" stroke-width="1.5" stroke-linecap="butt"/>
<line x1="667.71" y1="335.16" x2="659.95" y2="334.35" stroke="#b20e2b" stroke-width="1.5" stroke-linecap="butt"/>
<line x1="668.26" y1="330.68" x2="660.54" y2="329.59" stroke="#b20e2b" stroke-width="1.5" stroke-linecap="butt"/>
<line x1="669.46" y1="326.30" x2="655.97" y2="323.92" stroke="#b20e2b" stroke-width="3.7" stroke-linecap="butt"/>
<line x1="669.83" y1="321.78" x2="662.20" y2="320.15" stroke="#b20e2b" stroke-width="1.5" stroke-linecap="butt"/>
<line x1="670.85" y1="317.37" x2="663.28" y2="315.48" stroke="#b20e2b" stroke-width="1.5" stroke-linecap="butt"/>
<line x1="672.02" y1="313.00" x2="664.52" y2="310.85" stroke="#b20e2b" stroke-width="1.5" stroke-linecap="butt"/>
<line x1="673.34" y1="308.68" x2="665.92" y2="306.27" stroke="#b20e2b" stroke-width="1.5" stroke-linecap="butt"/>
<line x1="675.28" y1="304.58" x2="660.24" y2="299.11" stroke="#b20e2b" stroke-width="3.7" stroke-linecap="butt"/>
<line x1="676.43" y1="300.19" x2="669.20" y2="297.27" stroke="#b20e2b" stroke-width="1.5" stroke-linecap="butt"/>
<line x1="678.20" y1="296.03" x2="671.07" y2="292.86" stroke="#b20e2b" stroke-width="1.5" stroke-linecap="butt"/>
<line x1="680.11" y1="291.93" x2="673.10" y2="288.51" stroke="#b20e2b" stroke-width="1.5" stroke-linecap="butt"/>
<line x1="682.16" y1="287.90" x2="675.27" y2="284.24" stroke="#b20e2b" stroke-width="1.5" stroke-linecap="butt"/>
<line x1="684.78" y1="284.20" x2="672.92" y2="277.35" stroke="#b20e2b" stroke-width="3.7" stroke-linecap="butt"/>
<line x1="686.68" y1="280.08" x2="680.06" y2="275.94" stroke="#b20e2b" stroke-width="1.5" stroke-linecap="butt"/>
<line x1="689.14" y1="276.28" x2="682.67" y2="271.92" stroke="#b20e2b" stroke-width="1.5" stroke-linecap="butt"/>
<line x1="691.73" y1="272.58" x2="685.42" y2="268.00" stroke="#b20e2b" stroke-width="1.5" stroke-linecap="butt"/>
<line x1="694.45" y1="268.97" x2="688.31" y2="264.17" stroke="#b20e2b" stroke-width="1.5" stroke-linecap="butt"/>
<line x1="697.68" y1="265.78" x2="687.19" y2="256.97" stroke="#b20e2b" stroke-width="3.7" stroke-linecap="butt"/>
<line x1="700.26" y1="262.05" x2="694.47" y2="256.83" stroke="#b20e2b" stroke-width="1.5" stroke-linecap="butt"/>
<line x1="703.35" y1="258.74" x2="697.73" y2="253.32" stroke="#b20e2b" stroke-width="1.5" stroke-linecap="butt"/>
<line x1="706.54" y1="255.55" x2="701.12" y2="249.93" stroke="#b20e2b" stroke-width="1.5" stroke-linecap="butt"/>
<line x1="709.85" y1="252.46" x2="704.63" y2="246.67" stroke="#b20e2b" stroke-width="1.5" stroke-linecap="butt"/>
<line x1="713.58" y1="249.88" x2="704.77" y2="239.39" stroke="#b20e2b" stroke-width="3.7" stroke-linecap="butt"/>
<line x1="716.77" y1="246.65" x2="711.97" y2="240.51" stroke="#b20e2b" stroke-width="1.5" stroke-linecap="butt"/>
<line x1="720.38" y1="243.93" x2="715.80" y2="237.62" stroke="#b20e2b" stroke-width="1.5" stroke-linecap="butt"/>
<line x1="724.08" y1="241.34" x2="719.72" y2="234.87" stroke="#b20e2b" stroke-width="1.5" stroke-linecap="butt"/>
<line x1="727.88" y1="238.88" x2="723.74" y2="232.26" stroke="#b20e2b" stroke-width="1.5" stroke-linecap="butt"/>
<line x1="732.00" y1="236.98" x2="725.15" y2="225.12" stroke="#b20e2b" stroke-width="3.7" stroke-linecap="butt"/>
<line x1="735.70" y1="234.36" x2="732.04" y2="227.47" stroke="#b20e2b" stroke-width="1.5" stroke-linecap="butt"/>
<line x1="739.73" y1="232.31" x2="736.31" y2="225.30" stroke="#b20e2b" stroke-width="1.5" stroke-linecap="butt"/>
<line x1="743.83" y1="230.40" x2="740.66" y2="223.27" stroke="#b20e2b" stroke-width="1.5" stroke-linecap="butt"/>
<line x1="747.99" y1="228.63" x2="745.07" y2="221.40" stroke="#b20e2b" stroke-width="1.5" stroke-linecap="butt"/>
<line x1="752.38" y1="227.48" x2="746.91" y2="212.44" stroke="#b20e2b" stroke-width="3.7" stroke-linecap="butt"/>
<line x1="756.48" y1="225.54" x2="754.07" y2="218.12" stroke="#b20e2b" stroke-width="1.5" stroke-linecap="butt"/>
<line x1="760.80" y1="224.22" x2="758.65" y2="216.72" stroke="#b20e2b" stroke-width="1.5" stroke-linecap="butt"/>
<line x1="765.17" y1="223.05" x2="763.28" y2="215.48" stroke="#b20e2b" stroke-width="1.5" stroke-linecap="butt"/>
<line x1="769.58" y1="222.03" x2="767.95" y2="214.40" stroke="#b20e2b" stroke-width="1.5" stroke-linecap="butt"/>
<line x1="774.10" y1="221.66" x2="771.72" y2="208.17" stroke="#b20e2b" stroke-width="3.7" stroke-linecap="butt"/>
<line x1="778.48" y1="220.46" x2="777.39" y2="212.74" stroke="#b20e2b" stroke-width="1.5" stroke-linecap="butt"/>
<line x1="782.96" y1="219.91" x2="782.15" y2="212.15" stroke="#b20e2b" stroke-width="1.5" stroke-linecap="butt"/>
<line x1="787.47" y1="219.52" x2="786.92" y2="211.73" stroke="#b20e2b" stroke-width="1.5" stroke-linecap="butt"/>
<line x1="791.98" y1="219.28" x2="791.71" y2="211.48" stroke="#b20e2b" stroke-width="1.5" stroke-linecap="butt"/>
<line x1="796.50" y1="219.70" x2="796.50" y2="203.70" stroke="#b20e2b" stroke-width="3.7" stroke-linecap="butt"/>
<line x1="801.02" y1="219.28" x2="801.29" y2="211.48" stroke="#b20e2b" stroke-width="1.5" stroke-linecap="butt"/>
<line x1="805.53" y1="219.52" x2="806.08" y2="211.73" stroke="#b20e2b" stroke-width="1.5" stroke-linecap="butt"/>
<line x1="810.04" y1="219.91" x2="810.85" y2="212.15" stroke="#b20e2b" stroke-width="1.5" stroke-linecap="butt"/>
<line x1="814.52" y1="220.46" x2="815.61" y2="212.74" stroke="#b20e2b" stroke-width="1.5" stroke-linecap="butt"/>
<line x1="818.90" y1="221.66" x2="821.28" y2="208.17" stroke="#b20e2b" stroke-width="3.7" stroke-linecap="butt"/>
<line x1="823.42" y1="222.03" x2="825.05" y2="214.40" stroke="#b20e2b" stroke-width="1.5" stroke-linecap="butt"/>
<line x1="827.83" y1="223.05" x2="829.72" y2="215.48" stroke="#b20e2b" stroke-width="1.5" stroke-linecap="butt"/>
<line x1="832.20" y1="224.22" x2="834.35" y2="216.72" stroke="#b20e2b" stroke-width="1.5" stroke-linecap="butt"/>
<line x1="836.52" y1="225.54" x2="838.93" y2="218.12" stroke="#b20e2b" stroke-width="1.5" stroke-linecap="butt"/>
<line x1="840.62" y1="227.48" x2="845.31" y2="214.61" stroke="#b20e2b" stroke-width="3.7" stroke-linecap="butt"/>
<line x1="845.01" y1="228.63" x2="847.93" y2="221.40" stroke="#b20e2b" stroke-width="1.5" stroke-linecap="butt"/>
<line x1="849.17" y1="230.40" x2="852.34" y2="223.27" stroke="#b20e2b" stroke-width="1.5" stroke-linecap="butt"/>
<line x1="853.27" y1="232.31" x2="856.69" y2="225.30" stroke="#b20e2b" stroke-width="1.5" stroke-linecap="butt"/>
<line x1="857.30" y1="234.36" x2="860.96" y2="227.47" stroke="#b20e2b" stroke-width="1.5" stroke-linecap="butt"/>
<line x1="861.00" y1="236.98" x2="869.00" y2="223.13" stroke="#b20e2b" stroke-width="3.7" stroke-linecap="butt"/>
<line x1="865.12" y1="238.88" x2="869.26" y2="232.26" stroke="#b20e2b" stroke-width="1.5" stroke-linecap="butt"/>
<line x1="868.92" y1="241.34" x2="873.28" y2="234.87" stroke="#b20e2b" stroke-width="1.5" stroke-linecap="butt"/>
<line x1="872.62" y1="243.93" x2="877.20" y2="237.62" stroke="#b20e2b" stroke-width="1.5" stroke-linecap="butt"/>
<line x1="876.23" y1="246.65" x2="881.03" y2="240.51" stroke="#b20e2b" stroke-width="1.5" stroke-linecap="butt"/>
<line x1="879.42" y1="249.88" x2="888.23" y2="239.39" stroke="#b20e2b" stroke-width="3.7" stroke-linecap="butt"/>
<line x1="883.15" y1="252.46" x2="888.37" y2="246.67" stroke="#b20e2b" stroke-width="1.5" stroke-linecap="butt"/>
<line x1="886.46" y1="255.55" x2="891.88" y2="249.93" stroke="#b20e2b" stroke-width="1.5" stroke-linecap="butt"/>
<line x1="889.65" y1="258.74" x2="895.27" y2="253.32" stroke="#b20e2b" stroke-width="1.5" stroke-linecap="butt"/>
<line x1="892.74" y1="262.05" x2="898.53" y2="256.83" stroke="#b20e2b" stroke-width="1.5" stroke-linecap="butt"/>
<line x1="895.32" y1="265.78" x2="905.81" y2="256.97" stroke="#b20e2b" stroke-width="3.7" stroke-linecap="butt"/>
<line x1="898.55" y1="268.97" x2="904.69" y2="264.17" stroke="#b20e2b" stroke-width="1.5" stroke-linecap="butt"/>
<line x1="901.27" y1="272.58" x2="907.58" y2="268.00" stroke="#b20e2b" stroke-width="1.5" stroke-linecap="butt"/>
<line x1="903.86" y1="276.28" x2="910.33" y2="271.92" stroke="#b20e2b" stroke-width="1.5" stroke-linecap="butt"/>
<line x1="906.32" y1="280.08" x2="912.94" y2="275.94" stroke="#b20e2b" stroke-width="1.5" stroke-linecap="butt"/>
<line x1="908.22" y1="284.20" x2="920.08" y2="277.35" stroke="#b20e2b" stroke-width="3.7" stroke-linecap="butt"/>
<line x1="910.84" y1="287.90" x2="917.73" y2="284.24" stroke="#b20e2b" stroke-width="1.5" stroke-linecap="butt"/>
<line x1="912.89" y1="291.93" x2="919.90" y2="288.51" stroke="#b20e2b" stroke-width="1.5" stroke-linecap="butt"/>
<line x1="914.80" y1="296.03" x2="921.93" y2="292.86" stroke="#b20e2b" stroke-width="1.5" stroke-linecap="butt"/>
<line x1="916.57" y1="300.19" x2="923.80" y2="297.27" stroke="#b20e2b" stroke-width="1.5" stroke-linecap="butt"/>
<line x1="917.72" y1="304.58" x2="930.59" y2="299.89" stroke="#b20e2b" stroke-width="3.7" stroke-linecap="butt"/>
<line x1="919.66" y1="308.68" x2="927.08" y2="306.27" stroke="#b20e2b" stroke-width="1.5" stroke-linecap="butt"/>
<line x1="920.98" y1="313.00" x2="928.48" y2="310.85" stroke="#b20e2b" stroke-width="1.5" stroke-linecap="butt"/>
<line x1="922.15" y1="317.37" x2="929.72" y2="315.48" stroke="#b20e2b" stroke-width="1.5" stroke-linecap="butt"/>
<line x1="923.17" y1="321.78" x2="930.80" y2="320.15" stroke="#b20e2b" stroke-width="1.5" stroke-linecap="butt"/>
<line x1="923.54" y1="326.30" x2="939.30" y2="323.52" stroke="#b20e2b" stroke-width="3.7" stroke-linecap="butt"/>
<line x1="924.74" y1="330.68" x2="932.46" y2="329.59" stroke="#b20e2b" stroke-width="1.5" stroke-linecap="butt"/>
<line x1="925.29" y1="335.16" x2="933.05" y2="334.35" stroke="#b20e2b" stroke-width="1.5" stroke-linecap="butt"/>
<line x1="925.68" y1="339.67" x2="933.47" y2="339.12" stroke="#b20e2b" stroke-width="1.5" stroke-linecap="butt"/>
<line x1="925.92" y1="344.18" x2="933.72" y2="343.91" stroke="#b20e2b" stroke-width="1.5" stroke-linecap="butt"/>
<line x1="925.50" y1="348.70" x2="939.20" y2="348.70" stroke="#b20e2b" stroke-width="3.7" stroke-linecap="butt"/>
<line x1="925.92" y1="353.22" x2="933.72" y2="353.49" stroke="#b20e2b" stroke-width="1.5" stroke-linecap="butt"/>
<line x1="925.68" y1="357.73" x2="933.47" y2="358.28" stroke="#b20e2b" stroke-width="1.5" stroke-linecap="butt"/>
<line x1="925.29" y1="362.24" x2="933.05" y2="363.05" stroke="#b20e2b" stroke-width="1.5" stroke-linecap="butt"/>
<line x1="924.74" y1="366.72" x2="932.46" y2="367.81" stroke="#b20e2b" stroke-width="1.5" stroke-linecap="butt"/>
<line x1="923.54" y1="371.10" x2="937.03" y2="373.48" stroke="#b20e2b" stroke-width="3.7" stroke-linecap="butt"/>
<line x1="923.17" y1="375.62" x2="930.80" y2="377.25" stroke="#b20e2b" stroke-width="1.5" stroke-linecap="butt"/>
<line x1="922.15" y1="380.03" x2="929.72" y2="381.92" stroke="#b20e2b" stroke-width="1.5" stroke-linecap="butt"/>
<line x1="920.98" y1="384.40" x2="928.48" y2="386.55" stroke="#b20e2b" stroke-width="1.5" stroke-linecap="butt"/>
<line x1="919.66" y1="388.72" x2="927.08" y2="391.13" stroke="#b20e2b" stroke-width="1.5" stroke-linecap="butt"/>
<line x1="917.72" y1="392.82" x2="930.59" y2="397.51" stroke="#b20e2b" stroke-width="3.7" stroke-linecap="butt"/>
<line x1="916.57" y1="397.21" x2="923.80" y2="400.13" stroke="#b20e2b" stroke-width="1.5" stroke-linecap="butt"/>
<line x1="914.80" y1="401.37" x2="921.93" y2="404.54" stroke="#b20e2b" stroke-width="1.5" stroke-linecap="butt"/>
<line x1="912.89" y1="405.47" x2="919.90" y2="408.89" stroke="#b20e2b" stroke-width="1.5" stroke-linecap="butt"/>
<line x1="910.84" y1="409.50" x2="917.73" y2="413.16" stroke="#b20e2b" stroke-width="1.5" stroke-linecap="butt"/>
<line x1="908.22" y1="413.20" x2="920.08" y2="420.05" stroke="#b20e2b" stroke-width="3.7" stroke-linecap="butt"/>
<line x1="906.32" y1="417.32" x2="912.94" y2="421.46" stroke="#b20e2b" stroke-width="1.5" stroke-linecap="butt"/>
<line x1="903.86" y1="421.12" x2="910.33" y2="425.48" stroke="#b20e2b" stroke-width="1.5" stroke-linecap="butt"/>
<line x1="901.27" y1="424.82" x2="907.58" y2="429.40" stroke="#b20e2b" stroke-width="1.5" stroke-linecap="butt"/>
<line x1="898.55" y1="428.43" x2="904.69" y2="433.23" stroke="#b20e2b" stroke-width="1.5" stroke-linecap="butt"/>
<line x1="895.32" y1="431.62" x2="907.58" y2="441.90" stroke="#b20e2b" stroke-width="3.7" stroke-linecap="butt"/>
<line x1="892.74" y1="435.35" x2="898.53" y2="440.57" stroke="#b20e2b" stroke-width="1.5" stroke-linecap="butt"/>
<line x1="889.65" y1="438.66" x2="895.27" y2="444.08" stroke="#b20e2b" stroke-width="1.5" stroke-linecap="butt"/>
<line x1="886.46" y1="441.85" x2="891.88" y2="447.47" stroke="#b20e2b" stroke-width="1.5" stroke-linecap="butt"/>
<line x1="883.15" y1="444.94" x2="888.37" y2="450.73" stroke="#b20e2b" stroke-width="1.5" stroke-linecap="butt"/>
<line x1="879.42" y1="447.52" x2="888.23" y2="458.01" stroke="#b20e2b" stroke-width="3.7" stroke-linecap="butt"/>
<line x1="876.23" y1="450.75" x2="881.03" y2="456.89" stroke="#b20e2b" stroke-width="1.5" stroke-linecap="butt"/>
<line x1="872.62" y1="453.47" x2="877.20" y2="459.78" stroke="#b20e2b" stroke-width="1.5" stroke-linecap="butt"/>
<line x1="868.92" y1="456.06" x2="873.28" y2="462.53" stroke="#b20e2b" stroke-width="1.5" stroke-linecap="butt"/>
<line x1="865.12" y1="458.52" x2="869.26" y2="465.14" stroke="#b20e2b" stroke-width="1.5" stroke-linecap="butt"/>
<line x1="861.00" y1="460.42" x2="867.85" y2="472.28" stroke="#b20e2b" stroke-width="3.7" stroke-linecap="butt"/>
<line x1="857.30" y1="463.04" x2="860.96" y2="469.93" stroke="#b20e2b" stroke-width="1.5" stroke-linecap="butt"/>
<line x1="853.27" y1="465.09" x2="856.69" y2="472.10" stroke="#b20e2b" stroke-width="1.5" stroke-linecap="butt"/>
<line x1="849.17" y1="467.00" x2="852.34" y2="474.13" stroke="#b20e2b" stroke-width="1.5" stroke-linecap="butt"/>
<line x1="845.01" y1="468.77" x2="847.93" y2="476.00" stroke="#b20e2b" stroke-width="1.5" stroke-linecap="butt"/>
<line x1="840.62" y1="469.92" x2="845.31" y2="482.79" stroke="#b20e2b" stroke-width="3.7" stroke-linecap="butt"/>
<line x1="836.52" y1="471.86" x2="838.93" y2="479.28" stroke="#b20e2b" stroke-width="1.5" stroke-linecap="butt"/>
<line x1="832.20" y1="473.18" x2="834.35" y2="480.68" stroke="#b20e2b" stroke-width="1.5" stroke-linecap="butt"/>
<line x1="827.83" y1="474.35" x2="829.72" y2="481.92" stroke="#b20e2b" stroke-width="1.5" stroke-linecap="butt"/>
<line x1="823.42" y1="475.37" x2="825.05" y2="483.00" stroke="#b20e2b" stroke-width="1.5" stroke-linecap="butt"/>
<line x1="818.90" y1="475.74" x2="821.68" y2="491.50" stroke="#b20e2b" stroke-width="3.7" stroke-linecap="butt"/>
<text transform="translate(768.2,508.8) scale(1.08,1)" font-size="16" font-weight="400" fill="#262626" text-anchor="middle">0</text>
<text transform="translate(658.6,431.5) scale(1.08,1)" font-size="16" font-weight="400" fill="#262626" text-anchor="middle">5</text>
<text transform="translate(646.5,301.6) scale(1.08,1)" font-size="16" font-weight="400" fill="#262626" text-anchor="middle">10</text>
<text transform="translate(745.0,204.0) scale(1.08,1)" font-size="16" font-weight="400" fill="#262626" text-anchor="middle">15</text>
<text transform="translate(874.8,213.8) scale(1.08,1)" font-size="16" font-weight="400" fill="#262626" text-anchor="middle">20</text>
<text transform="translate(954.3,325.2) scale(1.08,1)" font-size="16" font-weight="400" fill="#262626" text-anchor="middle">25</text>
<text transform="translate(921.7,450.8) scale(1.08,1)" font-size="16" font-weight="400" fill="#262626" text-anchor="middle">30</text>
<text transform="translate(825.0,508.3) scale(1.08,1)" font-size="16" font-weight="400" fill="#262626" text-anchor="middle">34</text>
<line x1="778.61" y1="473.02" x2="780.53" y2="459.66" stroke="#b20e2b" stroke-width="4.0" stroke-linecap="butt"/>
<line x1="742.55" y1="462.12" x2="748.35" y2="449.93" stroke="#b20e2b" stroke-width="4.0" stroke-linecap="butt"/>
<line x1="711.34" y1="441.02" x2="720.49" y2="431.10" stroke="#b20e2b" stroke-width="4.0" stroke-linecap="butt"/>
<line x1="687.79" y1="411.61" x2="699.48" y2="404.85" stroke="#b20e2b" stroke-width="4.0" stroke-linecap="butt"/>
<line x1="674.03" y1="376.55" x2="687.19" y2="373.55" stroke="#b20e2b" stroke-width="4.0" stroke-linecap="butt"/>
<line x1="671.28" y1="338.98" x2="684.74" y2="340.02" stroke="#b20e2b" stroke-width="4.0" stroke-linecap="butt"/>
<line x1="679.79" y1="302.28" x2="692.34" y2="307.27" stroke="#b20e2b" stroke-width="4.0" stroke-linecap="butt"/>
<line x1="698.81" y1="269.76" x2="709.31" y2="278.24" stroke="#b20e2b" stroke-width="4.0" stroke-linecap="butt"/>
<line x1="726.61" y1="244.34" x2="734.12" y2="255.56" stroke="#b20e2b" stroke-width="4.0" stroke-linecap="butt"/>
<line x1="760.70" y1="228.31" x2="764.55" y2="241.25" stroke="#b20e2b" stroke-width="4.0" stroke-linecap="butt"/>
<line x1="798.01" y1="223.11" x2="797.85" y2="236.61" stroke="#b20e2b" stroke-width="4.0" stroke-linecap="butt"/>
<line x1="835.19" y1="229.21" x2="831.03" y2="242.05" stroke="#b20e2b" stroke-width="4.0" stroke-linecap="butt"/>
<line x1="868.88" y1="246.05" x2="861.10" y2="257.09" stroke="#b20e2b" stroke-width="4.0" stroke-linecap="butt"/>
<line x1="896.07" y1="272.14" x2="885.36" y2="280.36" stroke="#b20e2b" stroke-width="4.0" stroke-linecap="butt"/>
<line x1="914.29" y1="305.10" x2="901.63" y2="309.79" stroke="#b20e2b" stroke-width="4.0" stroke-linecap="butt"/>
<line x1="921.92" y1="342.00" x2="908.44" y2="342.72" stroke="#b20e2b" stroke-width="4.0" stroke-linecap="butt"/>
<line x1="918.27" y1="379.49" x2="905.18" y2="376.18" stroke="#b20e2b" stroke-width="4.0" stroke-linecap="butt"/>
<line x1="903.66" y1="414.21" x2="892.14" y2="407.17" stroke="#b20e2b" stroke-width="4.0" stroke-linecap="butt"/>
<line x1="879.41" y1="443.04" x2="870.50" y2="432.90" stroke="#b20e2b" stroke-width="4.0" stroke-linecap="butt"/>
<line x1="847.71" y1="463.39" x2="842.20" y2="451.06" stroke="#b20e2b" stroke-width="4.0" stroke-linecap="butt"/>
<line x1="811.39" y1="473.41" x2="809.79" y2="460.01" stroke="#b20e2b" stroke-width="4.0" stroke-linecap="butt"/>
<text transform="translate(778.2,453.3) scale(1.15,1)" font-size="9.3" fill="#3a3030" text-anchor="middle">0</text>
<text transform="translate(728.0,427.5) scale(1.15,1)" font-size="9.3" fill="#3a3030" text-anchor="middle">50</text>
<text transform="translate(699.4,374.5) scale(1.15,1)" font-size="9.3" fill="#3a3030" text-anchor="middle">100</text>
<text transform="translate(705.4,312.5) scale(1.15,1)" font-size="9.3" fill="#3a3030" text-anchor="middle">150</text>
<text transform="translate(743.1,267.7) scale(1.15,1)" font-size="9.3" fill="#3a3030" text-anchor="middle">200</text>
<text transform="translate(798.6,250.1) scale(1.15,1)" font-size="9.3" fill="#3a3030" text-anchor="middle">250</text>
<text transform="translate(855.3,269.5) scale(1.15,1)" font-size="9.3" fill="#3a3030" text-anchor="middle">300</text>
<text transform="translate(888.2,316.1) scale(1.15,1)" font-size="9.3" fill="#3a3030" text-anchor="middle">350</text>
<text transform="translate(890.0,378.1) scale(1.15,1)" font-size="9.3" fill="#3a3030" text-anchor="middle">400</text>
<text transform="translate(864.2,427.5) scale(1.15,1)" font-size="9.3" fill="#3a3030" text-anchor="middle">450</text>
<text transform="translate(813.0,453.3) scale(1.15,1)" font-size="9.3" fill="#3a3030" text-anchor="middle">500</text>
<text x="796.2" y="473.6" font-size="13" font-weight="700" fill="#b20e2b" text-anchor="middle">psi</text>
<text x="796.2" y="490.6" font-size="13" font-weight="700" fill="#b20e2b" text-anchor="middle">bar</text>
<text x="796.5" y="536.1" font-size="10.5" font-weight="700" fill="#ffffff" text-anchor="middle" textLength="37.0" lengthAdjust="spacingAndGlyphs">R134a</text>
<path d="M779.93,408.45 A62.0,62.0 0 1 1 813.07,408.45" fill="none" stroke="#2b2422" stroke-width="1.9"/>
<path d="M780.89,404.98 A58.4,58.4 0 1 1 812.11,404.98" fill="none" stroke="#2b2422" stroke-width="1.9"/>
<line x1="774.92" y1="406.82" x2="773.42" y2="410.85" stroke="#2b2422" stroke-width="1.35" stroke-linecap="butt"/>
<line x1="760.96" y1="399.51" x2="758.50" y2="403.03" stroke="#2b2422" stroke-width="1.35" stroke-linecap="butt"/>
<line x1="748.11" y1="387.46" x2="744.75" y2="390.15" stroke="#2b2422" stroke-width="1.35" stroke-linecap="butt"/>
<line x1="741.08" y1="376.49" x2="737.23" y2="378.41" stroke="#2b2422" stroke-width="1.35" stroke-linecap="butt"/>
<line x1="739.69" y1="373.54" x2="735.75" y2="375.26" stroke="#2b2422" stroke-width="1.35" stroke-linecap="butt"/>
<line x1="738.41" y1="370.37" x2="734.38" y2="371.87" stroke="#2b2422" stroke-width="1.35" stroke-linecap="butt"/>
<line x1="737.26" y1="366.99" x2="733.15" y2="368.26" stroke="#2b2422" stroke-width="1.35" stroke-linecap="butt"/>
<line x1="735.23" y1="358.17" x2="730.98" y2="358.83" stroke="#2b2422" stroke-width="1.35" stroke-linecap="butt"/>
<line x1="734.63" y1="352.66" x2="730.34" y2="352.93" stroke="#2b2422" stroke-width="1.35" stroke-linecap="butt"/>
<line x1="734.53" y1="346.87" x2="730.23" y2="346.74" stroke="#2b2422" stroke-width="1.35" stroke-linecap="butt"/>
<line x1="735.00" y1="340.85" x2="730.73" y2="340.30" stroke="#2b2422" stroke-width="1.35" stroke-linecap="butt"/>
<line x1="737.54" y1="329.53" x2="733.45" y2="328.20" stroke="#2b2422" stroke-width="1.35" stroke-linecap="butt"/>
<line x1="739.48" y1="324.36" x2="735.52" y2="322.67" stroke="#2b2422" stroke-width="1.35" stroke-linecap="butt"/>
<line x1="741.98" y1="319.18" x2="738.20" y2="317.14" stroke="#2b2422" stroke-width="1.35" stroke-linecap="butt"/>
<line x1="745.07" y1="314.07" x2="741.51" y2="311.67" stroke="#2b2422" stroke-width="1.35" stroke-linecap="butt"/>
<line x1="754.02" y1="303.54" x2="751.07" y2="300.41" stroke="#2b2422" stroke-width="1.35" stroke-linecap="butt"/>
<line x1="760.12" y1="298.50" x2="757.60" y2="295.01" stroke="#2b2422" stroke-width="1.35" stroke-linecap="butt"/>
<line x1="767.07" y1="294.13" x2="765.03" y2="290.34" stroke="#2b2422" stroke-width="1.35" stroke-linecap="butt"/>
<line x1="774.83" y1="290.61" x2="773.32" y2="286.58" stroke="#2b2422" stroke-width="1.35" stroke-linecap="butt"/>
<line x1="792.39" y1="286.84" x2="792.11" y2="282.55" stroke="#2b2422" stroke-width="1.35" stroke-linecap="butt"/>
<line x1="801.91" y1="286.94" x2="802.29" y2="282.65" stroke="#2b2422" stroke-width="1.35" stroke-linecap="butt"/>
<line x1="811.63" y1="288.57" x2="812.68" y2="284.40" stroke="#2b2422" stroke-width="1.35" stroke-linecap="butt"/>
<line x1="821.27" y1="291.86" x2="822.99" y2="287.92" stroke="#2b2422" stroke-width="1.35" stroke-linecap="butt"/>
<line x1="838.87" y1="303.44" x2="841.81" y2="300.30" stroke="#2b2422" stroke-width="1.35" stroke-linecap="butt"/>
<line x1="846.18" y1="311.61" x2="849.62" y2="309.03" stroke="#2b2422" stroke-width="1.35" stroke-linecap="butt"/>
<line x1="852.09" y1="321.26" x2="855.95" y2="319.35" stroke="#2b2422" stroke-width="1.35" stroke-linecap="butt"/>
<line x1="856.26" y1="332.17" x2="860.40" y2="331.03" stroke="#2b2422" stroke-width="1.35" stroke-linecap="butt"/>
<line x1="857.93" y1="357.05" x2="862.20" y2="357.63" stroke="#2b2422" stroke-width="1.35" stroke-linecap="butt"/>
<line x1="854.70" y1="370.08" x2="858.73" y2="371.56" stroke="#2b2422" stroke-width="1.35" stroke-linecap="butt"/>
<line x1="848.51" y1="382.45" x2="852.12" y2="384.79" stroke="#2b2422" stroke-width="1.35" stroke-linecap="butt"/>
<line x1="839.42" y1="393.44" x2="842.40" y2="396.54" stroke="#2b2422" stroke-width="1.35" stroke-linecap="butt"/>
<line x1="779.47" y1="407.69" x2="776.95" y2="416.43" stroke="#2b2422" stroke-width="2.5" stroke-linecap="butt"/>
<line x1="767.86" y1="403.01" x2="763.62" y2="411.06" stroke="#2b2422" stroke-width="2.5" stroke-linecap="butt"/>
<line x1="754.47" y1="393.46" x2="748.24" y2="400.09" stroke="#2b2422" stroke-width="2.5" stroke-linecap="butt"/>
<line x1="743.06" y1="378.93" x2="735.14" y2="383.42" stroke="#2b2422" stroke-width="2.5" stroke-linecap="butt"/>
<line x1="736.85" y1="363.24" x2="728.01" y2="365.40" stroke="#2b2422" stroke-width="2.5" stroke-linecap="butt"/>
<line x1="736.70" y1="334.78" x2="727.83" y2="332.72" stroke="#2b2422" stroke-width="2.5" stroke-linecap="butt"/>
<line x1="749.26" y1="309.48" x2="742.26" y2="303.67" stroke="#2b2422" stroke-width="2.5" stroke-linecap="butt"/>
<line x1="783.42" y1="288.71" x2="781.48" y2="279.82" stroke="#2b2422" stroke-width="2.5" stroke-linecap="butt"/>
<line x1="830.21" y1="297.38" x2="835.21" y2="289.78" stroke="#2b2422" stroke-width="2.5" stroke-linecap="butt"/>
<line x1="857.73" y1="344.10" x2="866.80" y2="343.41" stroke="#2b2422" stroke-width="2.5" stroke-linecap="butt"/>
<line x1="827.39" y1="401.77" x2="831.96" y2="409.63" stroke="#2b2422" stroke-width="2.5" stroke-linecap="butt"/>
<line x1="780.14" y1="405.39" x2="782.33" y2="397.80" stroke="#2b2422" stroke-width="2.3" stroke-linecap="butt"/>
<line x1="763.40" y1="397.54" x2="767.83" y2="391.00" stroke="#2b2422" stroke-width="2.3" stroke-linecap="butt"/>
<line x1="749.84" y1="384.80" x2="756.08" y2="379.97" stroke="#2b2422" stroke-width="2.3" stroke-linecap="butt"/>
<line x1="740.84" y1="368.27" x2="748.29" y2="365.65" stroke="#2b2422" stroke-width="2.3" stroke-linecap="butt"/>
<line x1="737.90" y1="341.87" x2="745.74" y2="342.79" stroke="#2b2422" stroke-width="2.3" stroke-linecap="butt"/>
<line x1="749.06" y1="313.62" x2="755.41" y2="318.32" stroke="#2b2422" stroke-width="2.3" stroke-linecap="butt"/>
<line x1="783.93" y1="291.05" x2="785.61" y2="298.77" stroke="#2b2422" stroke-width="2.3" stroke-linecap="butt"/>
<line x1="833.40" y1="302.66" x2="828.46" y2="308.83" stroke="#2b2422" stroke-width="2.3" stroke-linecap="butt"/>
<line x1="854.76" y1="358.04" x2="846.96" y2="356.79" stroke="#2b2422" stroke-width="2.3" stroke-linecap="butt"/>
<line x1="812.86" y1="405.39" x2="810.67" y2="397.80" stroke="#2b2422" stroke-width="2.3" stroke-linecap="butt"/>
<text transform="translate(778.7,426.6) scale(1.17,1)" font-size="7.7" font-weight="400" fill="#3a302e" text-anchor="middle">-20</text>
<text transform="translate(761.6,420.3) scale(1.17,1)" font-size="7.7" font-weight="400" fill="#3a302e" text-anchor="middle">0</text>
<text transform="translate(743.5,408.7) scale(1.17,1)" font-size="7.7" font-weight="400" fill="#3a302e" text-anchor="middle">10</text>
<text transform="translate(726.8,389.1) scale(1.17,1)" font-size="7.7" font-weight="400" fill="#3a302e" text-anchor="middle">20</text>
<text transform="translate(722.8,369.8) scale(1.17,1)" font-size="7.7" font-weight="400" fill="#3a302e" text-anchor="middle">30</text>
<text transform="translate(722.6,335.8) scale(1.17,1)" font-size="7.7" font-weight="400" fill="#3a302e" text-anchor="middle">40</text>
<text transform="translate(737.4,301.0) scale(1.17,1)" font-size="7.7" font-weight="400" fill="#3a302e" text-anchor="middle">50</text>
<text transform="translate(779.6,278.4) scale(1.17,1)" font-size="7.7" font-weight="400" fill="#3a302e" text-anchor="middle">60</text>
<text transform="translate(840.8,288.2) scale(1.17,1)" font-size="7.7" font-weight="400" fill="#3a302e" text-anchor="middle">70</text>
<text transform="translate(875.5,347.5) scale(1.17,1)" font-size="7.7" font-weight="400" fill="#3a302e" text-anchor="middle">80</text>
<text transform="translate(837.5,418.1) scale(1.17,1)" font-size="7.7" font-weight="400" fill="#3a302e" text-anchor="middle">90</text>
<text transform="translate(783.7,393.1) scale(1.17,1)" font-size="7.7" font-weight="400" fill="#3a302e" text-anchor="middle">0</text>
<text transform="translate(773.1,387.1) scale(1.17,1)" font-size="7.7" font-weight="400" fill="#3a302e" text-anchor="middle">40</text>
<text transform="translate(764.9,378.8) scale(1.17,1)" font-size="7.7" font-weight="400" fill="#3a302e" text-anchor="middle">60</text>
<text transform="translate(757.6,366.2) scale(1.17,1)" font-size="7.7" font-weight="400" fill="#3a302e" text-anchor="middle">80</text>
<text transform="translate(757.0,347.4) scale(1.17,1)" font-size="7.7" font-weight="400" fill="#3a302e" text-anchor="middle">100</text>
<text transform="translate(763.9,326.1) scale(1.17,1)" font-size="7.7" font-weight="400" fill="#3a302e" text-anchor="middle">120</text>
<text transform="translate(788.0,308.3) scale(1.17,1)" font-size="7.7" font-weight="400" fill="#3a302e" text-anchor="middle">140</text>
<text transform="translate(825.9,318.8) scale(1.17,1)" font-size="7.7" font-weight="400" fill="#3a302e" text-anchor="middle">160</text>
<text transform="translate(837.2,356.5) scale(1.17,1)" font-size="7.7" font-weight="400" fill="#3a302e" text-anchor="middle">180</text>
<text transform="translate(810.3,391.6) scale(1.17,1)" font-size="7.7" font-weight="400" fill="#3a302e" text-anchor="middle">200</text>
<text x="786.2" y="404.3" font-size="7.2" font-weight="700" fill="#2b2422">°F</text>
<text x="784.3" y="417.9" font-size="7.2" font-weight="700" fill="#2b2422">°C</text>
</g>
<polygon points="364.62,345.69 355.25,349.16 245.06,392.85 245.30,393.51 357.40,354.98 366.78,351.51" fill="#000000"/>
<polygon points="368.84,347.01 318.61,320.08 303.16,312.91 287.11,304.73 256.17,288.37 255.74,289.16 286.25,306.31 301.82,315.36 316.21,324.47 366.07,352.10" fill="#e5007e"/>
<circle cx="365.7" cy="348.6" r="2.6" fill="#ffffff" stroke="#e5007e" stroke-width="1.5"/>
<polygon points="796.73,346.98 748.02,376.60 734.00,386.27 718.81,395.95 689.70,413.90 690.16,414.67 719.74,397.49 735.44,388.68 750.59,380.89 799.71,351.96" fill="#e5007e"/>
<polygon points="800.06,351.02 801.74,341.17 819.08,223.40 818.39,223.29 795.63,340.12 793.94,349.98" fill="#000000"/>
<circle cx="796.5" cy="350.5" r="2.6" fill="#ffffff" stroke="#e5007e" stroke-width="1.5"/>
<path d="M66.2,133 V146 Q66.2,157.3 77.5,157.3 H181 Q190.5,157.3 195.5,165.5 L267,290" fill="none" stroke="#2a557f" stroke-width="1.05" stroke-linecap="round" stroke-linejoin="round"/>
<path d="M6,273 V285.5 Q6,296.7 17.2,296.7 H126 Q135.5,296.7 142.5,302 L250,383.5" fill="none" stroke="#2a557f" stroke-width="1.05" stroke-linecap="round" stroke-linejoin="round"/>
<path d="M5.8,537 V523.5 Q5.8,512 17.3,512 H116 Q125.5,512 132.5,506 L188,458.3" fill="none" stroke="#2a557f" stroke-width="1.05" stroke-linecap="round" stroke-linejoin="round"/>
<path d="M1199.5,165 V182 Q1199.5,193 1188.5,193 H1073 Q1063,193 1054,197.8 L976,239.5" fill="none" stroke="#2a557f" stroke-width="1.05" stroke-linecap="round" stroke-linejoin="round"/>
<path d="M1170.7,421 V408 Q1170.7,396.8 1159.5,396.8 H1059 Q1049,396.8 1040,391.8 L824.5,271.8" fill="none" stroke="#2a557f" stroke-width="1.05" stroke-linecap="round" stroke-linejoin="round"/>
<path d="M1170.7,555 V542 Q1170.7,530.8 1159.5,530.8 H925 Q915,530.8 906,525.5 L715,412" fill="none" stroke="#2a557f" stroke-width="1.05" stroke-linecap="round" stroke-linejoin="round"/>
<text x="8.0" y="36.0" font-size="28" font-weight="700" fill="#1c4b7f" textLength="512.0" lengthAdjust="spacingAndGlyphs">КАК ЧИТАТЬ СЦЕНАРИИ ПЛАКАТА:</text>
<text x="367.5" y="126.9" font-size="24.5" font-weight="700" fill="#1aa3e0" text-anchor="middle" textLength="30.5" lengthAdjust="spacingAndGlyphs" font-style="italic">LP</text>
<text x="796.5" y="126.9" font-size="24.5" font-weight="700" fill="#b4122f" text-anchor="middle" textLength="34.0" lengthAdjust="spacingAndGlyphs" font-style="italic">HP</text>
<text x="82.0" y="104.0" font-size="14" font-weight="700" fill="#1c4b7f" textLength="138.8" lengthAdjust="spacingAndGlyphs">РОЗОВАЯ СТРЕЛКА</text>
<text x="82.0" y="121.8" font-size="14" font-weight="400" fill="#627f9b" textLength="212.7" lengthAdjust="spacingAndGlyphs">СЛИШКОМ ВЫСОКОЕ РАБОЧЕЕ</text>
<text x="82.0" y="139.2" font-size="14" font-weight="400" fill="#627f9b" textLength="72.0" lengthAdjust="spacingAndGlyphs">ДАВЛЕНИЕ</text>
<text x="22.0" y="243.7" font-size="14" font-weight="700" fill="#1c4b7f" textLength="126.4" lengthAdjust="spacingAndGlyphs">ЧЁРНАЯ СТРЕЛКА</text>
<text x="22.0" y="261.5" font-size="14" font-weight="400" fill="#627f9b" textLength="160.0" lengthAdjust="spacingAndGlyphs">ПРАВИЛЬНОЕ РАБОЧЕЕ</text>
<text x="22.0" y="279.0" font-size="14" font-weight="400" fill="#627f9b" textLength="72.0" lengthAdjust="spacingAndGlyphs">ДАВЛЕНИЕ</text>
<text x="22.0" y="541.8" font-size="14" font-weight="700" fill="#1c4b7f" textLength="96.5" lengthAdjust="spacingAndGlyphs">СИНЯЯ ЗОНА</text>
<text x="22.0" y="559.2" font-size="14" font-weight="400" fill="#627f9b" textLength="175.5" lengthAdjust="spacingAndGlyphs">ВОЗМОЖНЫЙ ДИАПАЗОН</text>
<text x="22.0" y="576.6" font-size="14" font-weight="400" fill="#627f9b" textLength="258.5" lengthAdjust="spacingAndGlyphs">ПРАВИЛЬНОГО РАБОЧЕГО ДАВЛЕНИЯ</text>
<text x="22.0" y="594.0" font-size="14" font-weight="400" fill="#627f9b" textLength="208.0" lengthAdjust="spacingAndGlyphs">ПРИ ЗАДАННОЙ ТЕМПЕРАТУРЕ</text>
<text x="22.0" y="611.4" font-size="14" font-weight="400" fill="#627f9b" textLength="153.5" lengthAdjust="spacingAndGlyphs">ОКРУЖАЮЩЕЙ СРЕДЫ</text>
<text x="22.0" y="628.8" font-size="14" font-weight="700" fill="#1c4b7f" textLength="255.5" lengthAdjust="spacingAndGlyphs">НА СТОРОНЕ НИЗКОГО ДАВЛЕНИЯ</text>
<text x="915.0" y="83.5" font-size="14" font-weight="700" fill="#1c4b7f" textLength="113.0" lengthAdjust="spacingAndGlyphs">КРАСНАЯ ЗОНА</text>
<text x="915.0" y="100.9" font-size="14" font-weight="400" fill="#627f9b" textLength="175.5" lengthAdjust="spacingAndGlyphs">ВОЗМОЖНЫЙ ДИАПАЗОН</text>
<text x="915.0" y="118.3" font-size="14" font-weight="400" fill="#627f9b" textLength="258.5" lengthAdjust="spacingAndGlyphs">ПРАВИЛЬНОГО РАБОЧЕГО ДАВЛЕНИЯ</text>
<text x="915.0" y="135.7" font-size="14" font-weight="400" fill="#627f9b" textLength="208.0" lengthAdjust="spacingAndGlyphs">ПРИ ЗАДАННОЙ ТЕМПЕРАТУРЕ</text>
<text x="915.0" y="152.9" font-size="14" font-weight="400" fill="#627f9b" textLength="153.5" lengthAdjust="spacingAndGlyphs">ОКРУЖАЮЩЕЙ СРЕДЫ</text>
<text x="915.0" y="170.1" font-size="14" font-weight="700" fill="#1c4b7f" textLength="266.5" lengthAdjust="spacingAndGlyphs">НА СТОРОНЕ ВЫСОКОГО ДАВЛЕНИЯ</text>
<text x="1022.0" y="436.8" font-size="14" font-weight="700" fill="#1c4b7f" textLength="126.6" lengthAdjust="spacingAndGlyphs">ЧЁРНАЯ СТРЕЛКА</text>
<text x="1022.0" y="454.5" font-size="14" font-weight="400" fill="#627f9b" textLength="160.0" lengthAdjust="spacingAndGlyphs">ПРАВИЛЬНОЕ РАБОЧЕЕ</text>
<text x="1022.0" y="471.9" font-size="14" font-weight="400" fill="#627f9b" textLength="72.5" lengthAdjust="spacingAndGlyphs">ДАВЛЕНИЕ</text>
<text x="934.5" y="559.3" font-size="14" font-weight="700" fill="#1c4b7f" textLength="138.3" lengthAdjust="spacingAndGlyphs">РОЗОВАЯ СТРЕЛКА</text>
<text x="934.5" y="576.8" font-size="14" font-weight="400" fill="#627f9b" textLength="200.0" lengthAdjust="spacingAndGlyphs">СЛИШКОМ НИЗКОЕ РАБОЧЕЕ</text>
<text x="934.5" y="594.3" font-size="14" font-weight="400" fill="#627f9b" textLength="72.0" lengthAdjust="spacingAndGlyphs">ДАВЛЕНИЕ</text>
<path d="M576.20,426.47 A3.6,3.6 0 0 1 582.40,426.47 L621.10,492.17 A3.6,3.6 0 0 1 618.00,497.60 L540.60,497.60 A3.6,3.6 0 0 1 537.50,492.17 Z" fill="#1fa5e8" stroke="#0a0a0a" stroke-width="4.6" stroke-linejoin="round"/>
<path d="M574.5,445.7 H584.1 L583.7,477.3 H575.1 Z" fill="#0a0a0a"/>
<rect x="574.6" y="481.9" width="9.5" height="8.7" fill="#0a0a0a"/>
<text x="579.5" y="531.6" font-size="13.2" font-weight="400" fill="#627f9b" text-anchor="middle" textLength="173.0" lengthAdjust="spacingAndGlyphs">ЗНАЧЕНИЯ ПРИМЕНИМЫ</text>
<text x="580.0" y="555.4" font-size="18.7" font-weight="700" fill="#1c4b7f" text-anchor="middle" textLength="215.0" lengthAdjust="spacingAndGlyphs">ТОЛЬКО ДЛЯ R134A</text>
<line x1="363.3" y1="620" x2="363.3" y2="726" stroke="#3b9fd6" stroke-width="1.3"/>
<text x="215.8" y="675.8" font-size="13" font-weight="700" fill="#1c4b7f" textLength="116.7" lengthAdjust="spacingAndGlyphs">АББРЕВИАТУРЫ</text>
<rect x="394" y="620" width="43" height="44" rx="9.5" fill="#7b5fab"/>
<rect x="394" y="676" width="43" height="44" rx="9.5" fill="#3fb04a"/>
<text x="415.8" y="654.9" font-size="34.5" font-weight="700" fill="#ffffff" text-anchor="middle" stroke="#ffffff" stroke-width="0.9">F</text>
<text x="415.5" y="709.9" font-size="34.5" font-weight="700" fill="#ffffff" text-anchor="middle" textLength="24.5" lengthAdjust="spacingAndGlyphs" stroke="#ffffff" stroke-width="0.9">V</text>
<text x="464.3" y="646.7" font-size="14" font-weight="400" fill="#627f9b" textLength="124.8" lengthAdjust="spacingAndGlyphs">ПРИМЕНИМО ДЛЯ</text>
<text x="593.6" y="646.7" font-size="14" font-weight="700" fill="#1c4b7f" textLength="436.5" lengthAdjust="spacingAndGlyphs">КОМПРЕССОРА С ПОСТОЯННОЙ ПРОИЗВОДИТЕЛЬНОСТЬЮ</text>
<text x="464.3" y="697.7" font-size="14" font-weight="400" fill="#627f9b" textLength="124.8" lengthAdjust="spacingAndGlyphs">ПРИМЕНИМО ДЛЯ</text>
<text x="593.6" y="697.7" font-size="14" font-weight="700" fill="#1c4b7f" textLength="439.0" lengthAdjust="spacingAndGlyphs">КОМПРЕССОРА С ИЗМЕНЯЕМОЙ ПРОИЗВОДИТЕЛЬНОСТЬЮ</text>
<text x="9.0" y="789.0" font-size="28" font-weight="700" fill="#1c4b7f" textLength="563.5" lengthAdjust="spacingAndGlyphs">ТАБЛИЦА РАБОЧИХ ДАВЛЕНИЙ R134A</text>
<rect x="5.5" y="833.7" width="183.5" height="57.5" fill="#98999d"/>
<rect x="189" y="833.7" width="494.0" height="57.5" fill="#3fb04a"/>
<rect x="683" y="833.7" width="484.5" height="57.5" fill="#7a62ad"/>
<rect x="5.5" y="891.2" width="183.5" height="318.8" fill="#ececee"/>
<rect x="189" y="891.2" width="978.5" height="30.0" fill="#f2f2f4"/>
<rect x="189" y="921.2" width="242.0" height="35.8" fill="#18adee"/>
<rect x="431" y="921.2" width="252.0" height="35.8" fill="#ae0c2b"/>
<rect x="683" y="921.2" width="242.0" height="35.8" fill="#18adee"/>
<rect x="925" y="921.2" width="242.5" height="35.8" fill="#ae0c2b"/>
<rect x="189" y="957" width="242.0" height="253.0" fill="#d6effd"/>
<rect x="431" y="957" width="252.0" height="253.0" fill="#f7d7d0"/>
<rect x="683" y="957" width="242.0" height="253.0" fill="#d6effd"/>
<rect x="925" y="957" width="242.5" height="253.0" fill="#f7d7d0"/>
<rect x="5.5" y="1028.55" width="1162.0" height="1.5" fill="#ffffff"/>
<rect x="5.5" y="1064.75" width="1162.0" height="1.5" fill="#ffffff"/>
<rect x="5.5" y="1101.05" width="1162.0" height="1.5" fill="#ffffff"/>
<rect x="5.5" y="1137.25" width="1162.0" height="1.5" fill="#ffffff"/>
<rect x="5.5" y="1173.45" width="1162.0" height="1.5" fill="#ffffff"/>
<text x="17.5" y="868.3" font-size="14.6" font-weight="700" fill="#ffffff" textLength="160.5" lengthAdjust="spacingAndGlyphs">ТЕМП. ОКР. СРЕДЫ, °С</text>
<text x="436.3" y="868.5" font-size="14.7" font-weight="700" fill="#ffffff" text-anchor="middle" textLength="227.5" lengthAdjust="spacingAndGlyphs">КОМПРЕССОР С ИЗМ. ПРОИЗВ.</text>
<text x="925.0" y="868.5" font-size="14.7" font-weight="700" fill="#ffffff" text-anchor="middle" textLength="232.0" lengthAdjust="spacingAndGlyphs">КОМПРЕССОР С ПОСТ. ПРОИЗВ.</text>
<text x="678.3" y="912.5" font-size="15.2" font-weight="700" fill="#1c4b7f" text-anchor="middle" textLength="51.5" lengthAdjust="spacingAndGlyphs">R134A</text>
<text x="310.2" y="944.3" font-size="13.4" font-weight="700" fill="#ffffff" text-anchor="middle" textLength="58.0" lengthAdjust="spacingAndGlyphs">LP (бар)</text>
<text x="557.0" y="944.3" font-size="13.4" font-weight="700" fill="#ffffff" text-anchor="middle" textLength="60.0" lengthAdjust="spacingAndGlyphs">HP (бар)</text>
<text x="803.8" y="944.3" font-size="13.4" font-weight="700" fill="#ffffff" text-anchor="middle" textLength="58.0" lengthAdjust="spacingAndGlyphs">LP (бар)</text>
<text x="1046.0" y="944.3" font-size="13.4" font-weight="700" fill="#ffffff" text-anchor="middle" textLength="60.0" lengthAdjust="spacingAndGlyphs">HP (бар)</text>
<text x="249.3" y="981.5" font-size="13.5" font-weight="700" fill="#1ea4d2" text-anchor="middle" textLength="31.0" lengthAdjust="spacingAndGlyphs">min.</text>
<text x="370.3" y="981.5" font-size="13.5" font-weight="700" fill="#1ea4d2" text-anchor="middle" textLength="35.0" lengthAdjust="spacingAndGlyphs">max.</text>
<text x="491.0" y="981.5" font-size="13.5" font-weight="700" fill="#a80f2b" text-anchor="middle" textLength="31.0" lengthAdjust="spacingAndGlyphs">min.</text>
<text x="617.0" y="981.5" font-size="13.5" font-weight="700" fill="#a80f2b" text-anchor="middle" textLength="35.0" lengthAdjust="spacingAndGlyphs">max.</text>
<text x="743.5" y="981.5" font-size="13.5" font-weight="700" fill="#1ea4d2" text-anchor="middle" textLength="31.0" lengthAdjust="spacingAndGlyphs">min.</text>
<text x="864.3" y="981.5" font-size="13.5" font-weight="700" fill="#1ea4d2" text-anchor="middle" textLength="35.0" lengthAdjust="spacingAndGlyphs">max.</text>
<text x="985.5" y="981.5" font-size="13.5" font-weight="700" fill="#a80f2b" text-anchor="middle" textLength="31.0" lengthAdjust="spacingAndGlyphs">min.</text>
<text x="1106.5" y="981.5" font-size="13.5" font-weight="700" fill="#a80f2b" text-anchor="middle" textLength="35.0" lengthAdjust="spacingAndGlyphs">max.</text>
<text x="98.0" y="1017.6" font-size="14" font-weight="400" fill="#1e1e1e" text-anchor="middle" textLength="27.6" lengthAdjust="spacingAndGlyphs">15.5</text>
<text x="249.3" y="1017.6" font-size="14" font-weight="400" fill="#25a3b6" text-anchor="middle" textLength="18.7" lengthAdjust="spacingAndGlyphs">1.5</text>
<text x="370.3" y="1017.6" font-size="14" font-weight="400" fill="#25a3b6" text-anchor="middle" textLength="21.4" lengthAdjust="spacingAndGlyphs">2.3</text>
<text x="491.0" y="1017.6" font-size="14" font-weight="400" fill="#a3122c" text-anchor="middle" textLength="21.4" lengthAdjust="spacingAndGlyphs">9.5</text>
<text x="617.0" y="1017.6" font-size="14" font-weight="400" fill="#a3122c" text-anchor="middle" textLength="27.6" lengthAdjust="spacingAndGlyphs">13.0</text>
<text x="743.5" y="1017.6" font-size="14" font-weight="400" fill="#25a3b6" text-anchor="middle" textLength="21.4" lengthAdjust="spacingAndGlyphs">0.5</text>
<text x="864.3" y="1017.6" font-size="14" font-weight="400" fill="#25a3b6" text-anchor="middle" textLength="21.4" lengthAdjust="spacingAndGlyphs">3.0</text>
<text x="985.5" y="1017.6" font-size="14" font-weight="400" fill="#a3122c" text-anchor="middle" textLength="21.4" lengthAdjust="spacingAndGlyphs">9.5</text>
<text x="1106.5" y="1017.6" font-size="14" font-weight="400" fill="#a3122c" text-anchor="middle" textLength="27.6" lengthAdjust="spacingAndGlyphs">13.0</text>
<text x="98.0" y="1053.8" font-size="14" font-weight="400" fill="#1e1e1e" text-anchor="middle" textLength="27.6" lengthAdjust="spacingAndGlyphs">21.0</text>
<text x="249.3" y="1053.8" font-size="14" font-weight="400" fill="#25a3b6" text-anchor="middle" textLength="18.7" lengthAdjust="spacingAndGlyphs">1.5</text>
<text x="370.3" y="1053.8" font-size="14" font-weight="400" fill="#25a3b6" text-anchor="middle" textLength="21.4" lengthAdjust="spacingAndGlyphs">2.3</text>
<text x="491.0" y="1053.8" font-size="14" font-weight="400" fill="#a3122c" text-anchor="middle" textLength="27.6" lengthAdjust="spacingAndGlyphs">12.5</text>
<text x="617.0" y="1053.8" font-size="14" font-weight="400" fill="#a3122c" text-anchor="middle" textLength="26.3" lengthAdjust="spacingAndGlyphs">17.5</text>
<text x="743.5" y="1053.8" font-size="14" font-weight="400" fill="#25a3b6" text-anchor="middle" textLength="21.4" lengthAdjust="spacingAndGlyphs">0.5</text>
<text x="864.3" y="1053.8" font-size="14" font-weight="400" fill="#25a3b6" text-anchor="middle" textLength="21.4" lengthAdjust="spacingAndGlyphs">3.0</text>
<text x="985.5" y="1053.8" font-size="14" font-weight="400" fill="#a3122c" text-anchor="middle" textLength="27.6" lengthAdjust="spacingAndGlyphs">12.5</text>
<text x="1106.5" y="1053.8" font-size="14" font-weight="400" fill="#a3122c" text-anchor="middle" textLength="26.3" lengthAdjust="spacingAndGlyphs">17.5</text>
<text x="98.0" y="1089.9" font-size="14" font-weight="400" fill="#1e1e1e" text-anchor="middle" textLength="30.3" lengthAdjust="spacingAndGlyphs">26.5</text>
<text x="249.3" y="1089.9" font-size="14" font-weight="400" fill="#25a3b6" text-anchor="middle" textLength="18.7" lengthAdjust="spacingAndGlyphs">1.5</text>
<text x="370.3" y="1089.9" font-size="14" font-weight="400" fill="#25a3b6" text-anchor="middle" textLength="21.4" lengthAdjust="spacingAndGlyphs">2.3</text>
<text x="491.0" y="1089.9" font-size="14" font-weight="400" fill="#a3122c" text-anchor="middle" textLength="27.6" lengthAdjust="spacingAndGlyphs">14.0</text>
<text x="617.0" y="1089.9" font-size="14" font-weight="400" fill="#a3122c" text-anchor="middle" textLength="30.3" lengthAdjust="spacingAndGlyphs">20.5</text>
<text x="743.5" y="1089.9" font-size="14" font-weight="400" fill="#25a3b6" text-anchor="middle" textLength="21.4" lengthAdjust="spacingAndGlyphs">0.5</text>
<text x="864.3" y="1089.9" font-size="14" font-weight="400" fill="#25a3b6" text-anchor="middle" textLength="21.4" lengthAdjust="spacingAndGlyphs">3.0</text>
<text x="985.5" y="1089.9" font-size="14" font-weight="400" fill="#a3122c" text-anchor="middle" textLength="27.6" lengthAdjust="spacingAndGlyphs">14.0</text>
<text x="1106.5" y="1089.9" font-size="14" font-weight="400" fill="#a3122c" text-anchor="middle" textLength="30.3" lengthAdjust="spacingAndGlyphs">20.5</text>
<text x="98.0" y="1126.0" font-size="14" font-weight="400" fill="#1e1e1e" text-anchor="middle" textLength="30.3" lengthAdjust="spacingAndGlyphs">32.0</text>
<text x="249.3" y="1126.0" font-size="14" font-weight="400" fill="#25a3b6" text-anchor="middle" textLength="18.7" lengthAdjust="spacingAndGlyphs">1.5</text>
<text x="370.3" y="1126.0" font-size="14" font-weight="400" fill="#25a3b6" text-anchor="middle" textLength="21.4" lengthAdjust="spacingAndGlyphs">2.5</text>
<text x="491.0" y="1126.0" font-size="14" font-weight="400" fill="#a3122c" text-anchor="middle" textLength="27.6" lengthAdjust="spacingAndGlyphs">16.0</text>
<text x="617.0" y="1126.0" font-size="14" font-weight="400" fill="#a3122c" text-anchor="middle" textLength="30.3" lengthAdjust="spacingAndGlyphs">24.0</text>
<text x="743.5" y="1126.0" font-size="14" font-weight="400" fill="#25a3b6" text-anchor="middle" textLength="21.4" lengthAdjust="spacingAndGlyphs">0.5</text>
<text x="864.3" y="1126.0" font-size="14" font-weight="400" fill="#25a3b6" text-anchor="middle" textLength="21.4" lengthAdjust="spacingAndGlyphs">3.5</text>
<text x="985.5" y="1126.0" font-size="14" font-weight="400" fill="#a3122c" text-anchor="middle" textLength="27.6" lengthAdjust="spacingAndGlyphs">16.0</text>
<text x="1106.5" y="1126.0" font-size="14" font-weight="400" fill="#a3122c" text-anchor="middle" textLength="30.3" lengthAdjust="spacingAndGlyphs">24.0</text>
<text x="98.0" y="1162.2" font-size="14" font-weight="400" fill="#1e1e1e" text-anchor="middle" textLength="30.3" lengthAdjust="spacingAndGlyphs">38.8</text>
<text x="249.3" y="1162.2" font-size="14" font-weight="400" fill="#25a3b6" text-anchor="middle" textLength="18.7" lengthAdjust="spacingAndGlyphs">1.5</text>
<text x="370.3" y="1162.2" font-size="14" font-weight="400" fill="#25a3b6" text-anchor="middle" textLength="21.4" lengthAdjust="spacingAndGlyphs">2.5</text>
<text x="491.0" y="1162.2" font-size="14" font-weight="400" fill="#a3122c" text-anchor="middle" textLength="27.6" lengthAdjust="spacingAndGlyphs">18.5</text>
<text x="617.0" y="1162.2" font-size="14" font-weight="400" fill="#a3122c" text-anchor="middle" textLength="30.3" lengthAdjust="spacingAndGlyphs">25.5</text>
<text x="743.5" y="1162.2" font-size="14" font-weight="400" fill="#25a3b6" text-anchor="middle" textLength="21.4" lengthAdjust="spacingAndGlyphs">0.5</text>
<text x="864.3" y="1162.2" font-size="14" font-weight="400" fill="#25a3b6" text-anchor="middle" textLength="21.4" lengthAdjust="spacingAndGlyphs">3.5</text>
<text x="985.5" y="1162.2" font-size="14" font-weight="400" fill="#a3122c" text-anchor="middle" textLength="27.6" lengthAdjust="spacingAndGlyphs">18.5</text>
<text x="1106.5" y="1162.2" font-size="14" font-weight="400" fill="#a3122c" text-anchor="middle" textLength="30.3" lengthAdjust="spacingAndGlyphs">25.5</text>
<text x="98.0" y="1198.3" font-size="14" font-weight="400" fill="#1e1e1e" text-anchor="middle" textLength="30.3" lengthAdjust="spacingAndGlyphs">43.0</text>
<text x="249.3" y="1198.3" font-size="14" font-weight="400" fill="#25a3b6" text-anchor="middle" textLength="18.7" lengthAdjust="spacingAndGlyphs">1.5</text>
<text x="370.3" y="1198.3" font-size="14" font-weight="400" fill="#25a3b6" text-anchor="middle" textLength="21.4" lengthAdjust="spacingAndGlyphs">2.5</text>
<text x="491.0" y="1198.3" font-size="14" font-weight="400" fill="#a3122c" text-anchor="middle" textLength="30.3" lengthAdjust="spacingAndGlyphs">22.0</text>
<text x="617.0" y="1198.3" font-size="14" font-weight="400" fill="#a3122c" text-anchor="middle" textLength="30.3" lengthAdjust="spacingAndGlyphs">28.0</text>
<text x="743.5" y="1198.3" font-size="14" font-weight="400" fill="#25a3b6" text-anchor="middle" textLength="21.4" lengthAdjust="spacingAndGlyphs">0.5</text>
<text x="864.3" y="1198.3" font-size="14" font-weight="400" fill="#25a3b6" text-anchor="middle" textLength="21.4" lengthAdjust="spacingAndGlyphs">3.5</text>
<text x="985.5" y="1198.3" font-size="14" font-weight="400" fill="#a3122c" text-anchor="middle" textLength="30.3" lengthAdjust="spacingAndGlyphs">22.0</text>
<text x="1106.5" y="1198.3" font-size="14" font-weight="400" fill="#a3122c" text-anchor="middle" textLength="30.3" lengthAdjust="spacingAndGlyphs">28.0</text>
</svg></body></html>
